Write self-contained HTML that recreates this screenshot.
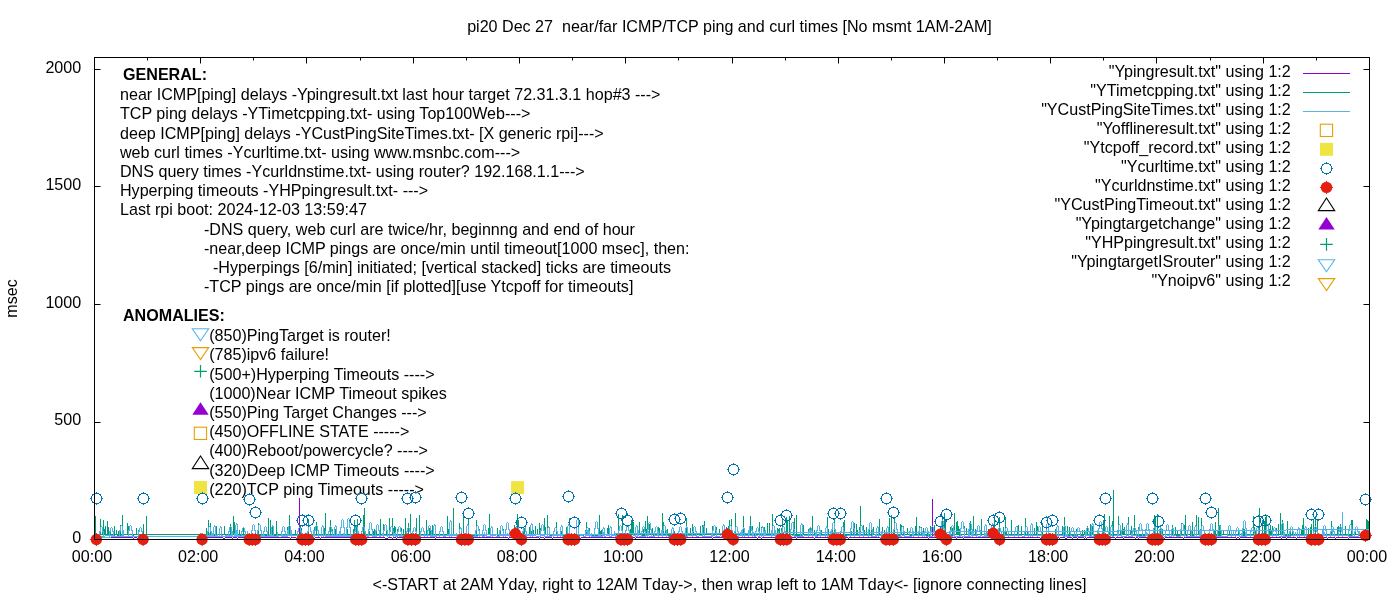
<!DOCTYPE html><html><head><meta charset="utf-8"><style>html,body{margin:0;padding:0;background:#fff;width:1400px;height:600px;overflow:hidden}svg{display:block;will-change:transform}text{font-family:"Liberation Sans",sans-serif;font-size:16.1px;fill:#000}</style></head><body>
<svg width="1400" height="600" viewBox="0 0 1400 600">
<rect width="1400" height="600" fill="#fff"/>
<text x="729.5" y="32.0" text-anchor="middle" xml:space="preserve">pi20 Dec 27  near/far ICMP/TCP ping and curl times [No msmt 1AM-2AM]</text>
<text x="0" y="0" text-anchor="middle" transform="translate(17,298.5) rotate(-90)">msec</text>
<text x="81.2" y="542.7" text-anchor="end" xml:space="preserve">0</text>
<text x="81.2" y="425.2" text-anchor="end" xml:space="preserve">500</text>
<text x="81.2" y="307.7" text-anchor="end" xml:space="preserve">1000</text>
<text x="81.2" y="190.2" text-anchor="end" xml:space="preserve">1500</text>
<text x="81.2" y="72.7" text-anchor="end" xml:space="preserve">2000</text>
<text x="92.0" y="561.8" text-anchor="middle" xml:space="preserve">00:00</text>
<text x="198.2" y="561.8" text-anchor="middle" xml:space="preserve">02:00</text>
<text x="304.5" y="561.8" text-anchor="middle" xml:space="preserve">04:00</text>
<text x="410.8" y="561.8" text-anchor="middle" xml:space="preserve">06:00</text>
<text x="517.0" y="561.8" text-anchor="middle" xml:space="preserve">08:00</text>
<text x="623.2" y="561.8" text-anchor="middle" xml:space="preserve">10:00</text>
<text x="729.5" y="561.8" text-anchor="middle" xml:space="preserve">12:00</text>
<text x="835.8" y="561.8" text-anchor="middle" xml:space="preserve">14:00</text>
<text x="942.0" y="561.8" text-anchor="middle" xml:space="preserve">16:00</text>
<text x="1048.2" y="561.8" text-anchor="middle" xml:space="preserve">18:00</text>
<text x="1154.5" y="561.8" text-anchor="middle" xml:space="preserve">20:00</text>
<text x="1260.8" y="561.8" text-anchor="middle" xml:space="preserve">22:00</text>
<text x="1367.0" y="561.8" text-anchor="middle" xml:space="preserve">00:00</text>
<text x="729.5" y="589.8" text-anchor="middle" xml:space="preserve">&lt;-START at 2AM Yday, right to 12AM Tday-&gt;, then wrap left to 1AM Tday&lt;- [ignore connecting lines]</text>
<text x="123.0" y="79.8" text-anchor="start" font-weight="bold" xml:space="preserve">GENERAL:</text>
<text x="120.0" y="100.2" text-anchor="start" xml:space="preserve">near ICMP[ping] delays -Ypingresult.txt last hour target 72.31.3.1 hop#3 ---&gt;</text>
<text x="120.0" y="119.3" text-anchor="start" xml:space="preserve">TCP ping delays -YTimetcpping.txt- using Top100Web---&gt;</text>
<text x="120.0" y="138.5" text-anchor="start" xml:space="preserve">deep ICMP[ping] delays -YCustPingSiteTimes.txt- [X generic rpi]---&gt;</text>
<text x="120.0" y="157.7" text-anchor="start" xml:space="preserve">web curl times -Ycurltime.txt- using www.msnbc.com---&gt;</text>
<text x="120.0" y="176.8" text-anchor="start" xml:space="preserve">DNS query times -Ycurldnstime.txt- using router? 192.168.1.1---&gt;</text>
<text x="120.0" y="195.9" text-anchor="start" xml:space="preserve">Hyperping timeouts -YHPpingresult.txt- ---&gt;</text>
<text x="120.0" y="215.1" text-anchor="start" xml:space="preserve">Last rpi boot: 2024-12-03 13:59:47</text>
<text x="204.0" y="235.0" text-anchor="start" xml:space="preserve">-DNS query, web curl are twice/hr, beginnng and end of hour</text>
<text x="204.0" y="254.1" text-anchor="start" xml:space="preserve">-near,deep ICMP pings are once/min until timeout[1000 msec], then:</text>
<text x="213.0" y="273.2" text-anchor="start" xml:space="preserve">-Hyperpings [6/min] initiated; [vertical stacked] ticks are timeouts</text>
<text x="204.0" y="292.3" text-anchor="start" xml:space="preserve">-TCP pings are once/min [if plotted][use Ytcpoff for timeouts]</text>
<text x="123.0" y="320.7" text-anchor="start" font-weight="bold" xml:space="preserve">ANOMALIES:</text>
<text x="209.2" y="341.1" text-anchor="start" xml:space="preserve">(850)PingTarget is router!</text>
<text x="209.2" y="360.3" text-anchor="start" xml:space="preserve">(785)ipv6 failure!</text>
<text x="209.2" y="379.5" text-anchor="start" xml:space="preserve">(500+)Hyperping Timeouts ----&gt;</text>
<text x="209.2" y="398.7" text-anchor="start" xml:space="preserve">(1000)Near ICMP Timeout spikes</text>
<text x="209.2" y="417.9" text-anchor="start" xml:space="preserve">(550)Ping Target Changes ---&gt;</text>
<text x="209.2" y="437.1" text-anchor="start" xml:space="preserve">(450)OFFLINE STATE -----&gt;</text>
<text x="209.2" y="456.3" text-anchor="start" xml:space="preserve">(400)Reboot/powercycle? ----&gt;</text>
<text x="209.2" y="475.5" text-anchor="start" xml:space="preserve">(320)Deep ICMP Timeouts ----&gt;</text>
<text x="209.2" y="494.7" text-anchor="start" xml:space="preserve">(220)TCP ping Timeouts -----&gt;</text>
<polygon points="200.5,340.8 208.7,328.8 192.3,328.8" fill="none" stroke="#56b4e9" stroke-width="1.1"/>
<polygon points="200.5,359.6 208.7,347.6 192.3,347.6" fill="none" stroke="#e69f00" stroke-width="1.1"/>
<path d="M194.2 371.3H206.8M200.5 365.0V377.6" stroke="#009e73" stroke-width="1.2" fill="none"/>
<polygon points="200.5,402.2 208.7,414.8 192.3,414.8" fill="#9400d3"/>
<rect x="194.3" y="427.2" width="12.3" height="12.3" fill="none" stroke="#e69f00" stroke-width="1.1"/>
<polygon points="200.5,456.0 208.7,468.6 192.3,468.6" fill="none" stroke="#000" stroke-width="1.1"/>
<rect x="194.0" y="481.0" width="13" height="13" fill="#f0e442"/>
<text x="1290.8" y="77.0" text-anchor="end" xml:space="preserve">"Ypingresult.txt" using 1:2</text>
<text x="1290.8" y="96.0" text-anchor="end" xml:space="preserve">"YTimetcpping.txt" using 1:2</text>
<text x="1290.8" y="115.0" text-anchor="end" xml:space="preserve">"YCustPingSiteTimes.txt" using 1:2</text>
<text x="1290.8" y="134.0" text-anchor="end" xml:space="preserve">"Yofflineresult.txt" using 1:2</text>
<text x="1290.8" y="153.0" text-anchor="end" xml:space="preserve">"Ytcpoff_record.txt" using 1:2</text>
<text x="1290.8" y="172.0" text-anchor="end" xml:space="preserve">"Ycurltime.txt" using 1:2</text>
<text x="1290.8" y="191.0" text-anchor="end" xml:space="preserve">"Ycurldnstime.txt" using 1:2</text>
<text x="1290.8" y="210.0" text-anchor="end" xml:space="preserve">"YCustPingTimeout.txt" using 1:2</text>
<text x="1290.8" y="229.0" text-anchor="end" xml:space="preserve">"Ypingtargetchange" using 1:2</text>
<text x="1290.8" y="248.0" text-anchor="end" xml:space="preserve">"YHPpingresult.txt" using 1:2</text>
<text x="1290.8" y="267.0" text-anchor="end" xml:space="preserve">"YpingtargetISrouter" using 1:2</text>
<text x="1290.8" y="286.0" text-anchor="end" xml:space="preserve">"Ynoipv6" using 1:2</text>
<path d="M1303 73.5H1350" stroke="#9400d3" stroke-width="1.1"/>
<path d="M1303 92.5H1350" stroke="#009e73" stroke-width="1.1"/>
<path d="M1303 111.5H1350" stroke="#56b4e9" stroke-width="1.1"/>
<rect x="1320.3" y="124.2" width="12.3" height="12.3" fill="none" stroke="#e69f00" stroke-width="1.1"/>
<rect x="1320.0" y="142.8" width="13" height="13" fill="#f0e442"/>
<circle cx="1326.5" cy="168.5" r="5.3" fill="none" stroke="#0072b2" stroke-width="1.1" shape-rendering="crispEdges"/>
<path d="M1326.5 162.0v2M1326.5 173.0v2M1320.0 168.5h2M1331.0 168.5h2" stroke="#0072b2" stroke-width="1" shape-rendering="crispEdges"/>
<circle cx="1326.5" cy="187.4" r="5.7" fill="#e51e10"/>
<path d="M1326.5 180.9v13M1320.0 187.4h13" stroke="#e51e10" stroke-width="1"/>
<polygon points="1326.5,198.0 1334.7,210.6 1318.3,210.6" fill="none" stroke="#000" stroke-width="1.1"/>
<polygon points="1326.5,217.0 1334.7,229.6 1318.3,229.6" fill="#9400d3"/>
<path d="M1320.2 244.4H1332.8M1326.5 238.1V250.7" stroke="#009e73" stroke-width="1.2" fill="none"/>
<polygon points="1326.5,271.8 1334.7,259.8 1318.3,259.8" fill="none" stroke="#56b4e9" stroke-width="1.1"/>
<polygon points="1326.5,290.6 1334.7,278.6 1318.3,278.6" fill="none" stroke="#e69f00" stroke-width="1.1"/>
<path d="M94.5 57.5v6 M94.5 539.5v-6 M147.5 57.5v3 M147.5 539.5v-3 M200.5 57.5v6 M200.5 539.5v-6 M253.5 57.5v3 M253.5 539.5v-3 M306.5 57.5v6 M306.5 539.5v-6 M360.5 57.5v3 M360.5 539.5v-3 M413.5 57.5v6 M413.5 539.5v-6 M466.5 57.5v3 M466.5 539.5v-3 M519.5 57.5v6 M519.5 539.5v-6 M572.5 57.5v3 M572.5 539.5v-3 M625.5 57.5v6 M625.5 539.5v-6 M678.5 57.5v3 M678.5 539.5v-3 M732.5 57.5v6 M732.5 539.5v-6 M785.5 57.5v3 M785.5 539.5v-3 M838.5 57.5v6 M838.5 539.5v-6 M891.5 57.5v3 M891.5 539.5v-3 M944.5 57.5v6 M944.5 539.5v-6 M997.5 57.5v3 M997.5 539.5v-3 M1050.5 57.5v6 M1050.5 539.5v-6 M1103.5 57.5v3 M1103.5 539.5v-3 M1156.5 57.5v6 M1156.5 539.5v-6 M1210.5 57.5v3 M1210.5 539.5v-3 M1263.5 57.5v6 M1263.5 539.5v-6 M1316.5 57.5v3 M1316.5 539.5v-3 M1369.5 57.5v6 M1369.5 539.5v-6 M94.5 539.5h6 M1369.5 539.5h-6 M94.5 422.5h6 M1369.5 422.5h-6 M94.5 304.5h6 M1369.5 304.5h-6 M94.5 186.5h6 M1369.5 186.5h-6 M94.5 69.5h6 M1369.5 69.5h-6" stroke="#000" stroke-width="1" fill="none"/>
<g clip-path="url(#cp)">
<defs><clipPath id="cp"><rect x="0" y="0" width="1400" height="600"/></clipPath></defs>
<path fill="#9400d3" d="M95 537h1v1h-1zM96 537h1v1h-1zM97 537h1v1h-1zM98 537h1v1h-1zM99 537h1v1h-1zM100 537h1v1h-1zM101 537h1v1h-1zM102 537h1v1h-1zM103 537h1v1h-1zM104 537h1v1h-1zM105 537h1v1h-1zM106 537h1v1h-1zM107 537h1v1h-1zM108 537h1v1h-1zM109 537h1v1h-1zM110 537h1v1h-1zM111 537h1v1h-1zM112 537h1v1h-1zM113 537h1v1h-1zM114 537h1v1h-1zM115 537h1v1h-1zM116 537h1v1h-1zM117 537h1v1h-1zM118 537h1v1h-1zM119 537h1v1h-1zM120 537h1v1h-1zM121 537h1v1h-1zM122 537h1v1h-1zM123 537h1v1h-1zM124 537h1v1h-1zM125 537h1v1h-1zM126 537h1v1h-1zM127 537h1v1h-1zM128 537h1v1h-1zM129 537h1v1h-1zM130 537h1v1h-1zM131 537h1v1h-1zM132 537h1v1h-1zM133 538h1v1h-1zM134 537h1v1h-1zM135 537h1v1h-1zM136 537h1v1h-1zM137 538h1v1h-1zM138 537h1v1h-1zM139 537h1v1h-1zM140 537h1v1h-1zM141 537h1v1h-1zM142 537h1v1h-1zM143 537h1v1h-1zM144 537h1v1h-1zM145 537h1v1h-1zM146 537h1v1h-1zM147 537h1v1h-1zM200 537h1v1h-1zM201 537h1v1h-1zM202 537h1v1h-1zM203 537h1v1h-1zM204 537h1v1h-1zM205 537h1v1h-1zM206 538h1v1h-1zM207 537h1v1h-1zM208 537h1v1h-1zM209 537h1v1h-1zM210 537h1v1h-1zM211 537h1v1h-1zM212 537h1v1h-1zM213 537h1v1h-1zM214 537h1v1h-1zM215 537h1v1h-1zM216 537h1v1h-1zM217 537h1v1h-1zM218 537h1v1h-1zM219 537h1v1h-1zM220 537h1v1h-1zM221 537h1v1h-1zM222 537h1v1h-1zM223 538h1v1h-1zM224 538h1v1h-1zM225 537h1v1h-1zM226 537h1v1h-1zM227 537h1v1h-1zM228 537h1v1h-1zM229 537h1v1h-1zM230 537h1v1h-1zM231 537h1v1h-1zM232 538h1v1h-1zM233 537h1v1h-1zM234 537h1v1h-1zM235 537h1v1h-1zM236 537h1v1h-1zM237 538h1v1h-1zM238 537h1v1h-1zM239 537h1v1h-1zM240 537h1v1h-1zM241 537h1v1h-1zM242 537h1v1h-1zM243 537h1v1h-1zM244 537h1v1h-1zM245 537h1v1h-1zM246 537h1v1h-1zM247 537h1v1h-1zM248 537h1v1h-1zM249 537h1v1h-1zM250 537h1v1h-1zM251 537h1v1h-1zM252 538h1v1h-1zM253 537h1v1h-1zM254 537h1v1h-1zM255 537h1v1h-1zM256 537h1v1h-1zM257 537h1v1h-1zM258 537h1v1h-1zM259 537h1v1h-1zM260 537h1v1h-1zM261 537h1v1h-1zM262 537h1v1h-1zM263 537h1v1h-1zM264 537h1v1h-1zM265 537h1v1h-1zM266 537h1v1h-1zM267 537h1v1h-1zM268 537h1v1h-1zM269 537h1v1h-1zM270 537h1v1h-1zM271 537h1v1h-1zM272 537h1v1h-1zM273 537h1v1h-1zM274 537h1v1h-1zM275 537h1v1h-1zM276 537h1v1h-1zM277 537h1v1h-1zM278 537h1v1h-1zM279 537h1v1h-1zM280 537h1v1h-1zM281 537h1v1h-1zM282 537h1v1h-1zM283 537h1v1h-1zM284 537h1v1h-1zM285 537h1v1h-1zM286 537h1v1h-1zM287 537h1v1h-1zM288 537h1v1h-1zM289 537h1v1h-1zM290 538h1v1h-1zM291 537h1v1h-1zM292 537h1v1h-1zM293 537h1v1h-1zM294 537h1v1h-1zM295 537h1v1h-1zM296 538h1v1h-1zM297 537h1v1h-1zM298 538h1v1h-1zM299 498h1v40h-1zM300 537h1v1h-1zM301 537h1v1h-1zM302 537h1v1h-1zM303 537h1v1h-1zM304 537h1v1h-1zM305 537h1v1h-1zM306 537h1v1h-1zM307 537h1v1h-1zM308 537h1v1h-1zM309 537h1v1h-1zM310 537h1v1h-1zM311 537h1v1h-1zM312 537h1v1h-1zM313 537h1v1h-1zM314 538h1v1h-1zM315 537h1v1h-1zM316 537h1v1h-1zM317 537h1v1h-1zM318 537h1v1h-1zM319 537h1v1h-1zM320 538h1v1h-1zM321 537h1v1h-1zM322 537h1v1h-1zM323 537h1v1h-1zM324 537h1v1h-1zM325 537h1v1h-1zM326 537h1v1h-1zM327 537h1v1h-1zM328 537h1v1h-1zM329 537h1v1h-1zM330 537h1v1h-1zM331 537h1v1h-1zM332 537h1v1h-1zM333 537h1v1h-1zM334 537h1v1h-1zM335 537h1v1h-1zM336 537h1v1h-1zM337 537h1v1h-1zM338 537h1v1h-1zM339 537h1v1h-1zM340 537h1v1h-1zM341 537h1v1h-1zM342 537h1v1h-1zM343 537h1v1h-1zM344 537h1v1h-1zM345 537h1v1h-1zM346 537h1v1h-1zM347 537h1v1h-1zM348 537h1v1h-1zM349 537h1v1h-1zM350 537h1v1h-1zM351 537h1v1h-1zM352 537h1v1h-1zM353 537h1v1h-1zM354 537h1v1h-1zM355 537h1v1h-1zM356 537h1v1h-1zM357 537h1v1h-1zM358 537h1v1h-1zM359 538h1v1h-1zM360 537h1v1h-1zM361 537h1v1h-1zM362 537h1v1h-1zM363 537h1v1h-1zM364 537h1v1h-1zM365 537h1v1h-1zM366 537h1v1h-1zM367 537h1v1h-1zM368 537h1v1h-1zM369 537h1v1h-1zM370 537h1v1h-1zM371 537h1v1h-1zM372 537h1v1h-1zM373 537h1v1h-1zM374 537h1v1h-1zM375 537h1v1h-1zM376 537h1v1h-1zM377 537h1v1h-1zM378 537h1v1h-1zM379 537h1v1h-1zM380 537h1v1h-1zM381 537h1v1h-1zM382 537h1v1h-1zM383 537h1v1h-1zM384 537h1v1h-1zM385 538h1v1h-1zM386 538h1v1h-1zM387 538h1v1h-1zM388 537h1v1h-1zM389 537h1v1h-1zM390 537h1v1h-1zM391 537h1v1h-1zM392 538h1v1h-1zM393 537h1v1h-1zM394 537h1v1h-1zM395 537h1v1h-1zM396 538h1v1h-1zM397 537h1v1h-1zM398 537h1v1h-1zM399 537h1v1h-1zM400 537h1v1h-1zM401 537h1v1h-1zM402 537h1v1h-1zM403 537h1v1h-1zM404 537h1v1h-1zM405 538h1v1h-1zM406 537h1v1h-1zM407 537h1v1h-1zM408 537h1v1h-1zM409 538h1v1h-1zM410 537h1v1h-1zM411 537h1v1h-1zM412 537h1v1h-1zM413 537h1v1h-1zM414 537h1v1h-1zM415 537h1v1h-1zM416 537h1v1h-1zM417 537h1v1h-1zM418 537h1v1h-1zM419 537h1v1h-1zM420 537h1v1h-1zM421 537h1v1h-1zM422 537h1v1h-1zM423 537h1v1h-1zM424 537h1v1h-1zM425 537h1v1h-1zM426 537h1v1h-1zM427 537h1v1h-1zM428 537h1v1h-1zM429 537h1v1h-1zM430 537h1v1h-1zM431 537h1v1h-1zM432 537h1v1h-1zM433 537h1v1h-1zM434 537h1v1h-1zM435 538h1v1h-1zM436 537h1v1h-1zM437 537h1v1h-1zM438 537h1v1h-1zM439 537h1v1h-1zM440 537h1v1h-1zM441 537h1v1h-1zM442 537h1v1h-1zM443 537h1v1h-1zM444 537h1v1h-1zM445 537h1v1h-1zM446 537h1v1h-1zM447 537h1v1h-1zM448 537h1v1h-1zM449 537h1v1h-1zM450 537h1v1h-1zM451 537h1v1h-1zM452 537h1v1h-1zM453 537h1v1h-1zM454 537h1v1h-1zM455 537h1v1h-1zM456 537h1v1h-1zM457 537h1v1h-1zM458 537h1v1h-1zM459 537h1v1h-1zM460 537h1v1h-1zM461 537h1v1h-1zM462 537h1v1h-1zM463 537h1v1h-1zM464 537h1v1h-1zM465 537h1v1h-1zM466 537h1v1h-1zM467 537h1v1h-1zM468 537h1v1h-1zM469 537h1v1h-1zM470 537h1v1h-1zM471 537h1v1h-1zM472 537h1v1h-1zM473 537h1v1h-1zM474 537h1v1h-1zM475 537h1v1h-1zM476 537h1v1h-1zM477 537h1v1h-1zM478 537h1v1h-1zM479 537h1v1h-1zM480 537h1v1h-1zM481 537h1v1h-1zM482 537h1v1h-1zM483 537h1v1h-1zM484 537h1v1h-1zM485 537h1v1h-1zM486 537h1v1h-1zM487 537h1v1h-1zM488 537h1v1h-1zM489 537h1v1h-1zM490 537h1v1h-1zM491 537h1v1h-1zM492 537h1v1h-1zM493 537h1v1h-1zM494 537h1v1h-1zM495 537h1v1h-1zM496 537h1v1h-1zM497 537h1v1h-1zM498 537h1v1h-1zM499 537h1v1h-1zM500 537h1v1h-1zM501 537h1v1h-1zM502 537h1v1h-1zM503 537h1v1h-1zM504 537h1v1h-1zM505 537h1v1h-1zM506 537h1v1h-1zM507 537h1v1h-1zM508 538h1v1h-1zM509 537h1v1h-1zM510 537h1v1h-1zM511 537h1v1h-1zM512 537h1v1h-1zM513 537h1v1h-1zM514 537h1v1h-1zM515 537h1v1h-1zM516 537h1v1h-1zM517 537h1v1h-1zM518 537h1v1h-1zM519 537h1v1h-1zM520 537h1v1h-1zM521 537h1v1h-1zM522 537h1v1h-1zM523 537h1v1h-1zM524 537h1v1h-1zM525 537h1v1h-1zM526 537h1v1h-1zM527 537h1v1h-1zM528 537h1v1h-1zM529 537h1v1h-1zM530 537h1v1h-1zM531 537h1v1h-1zM532 537h1v1h-1zM533 537h1v1h-1zM534 537h1v1h-1zM535 537h1v1h-1zM536 537h1v1h-1zM537 537h1v1h-1zM538 537h1v1h-1zM539 538h1v1h-1zM540 537h1v1h-1zM541 537h1v1h-1zM542 537h1v1h-1zM543 537h1v1h-1zM544 538h1v1h-1zM545 537h1v1h-1zM546 537h1v1h-1zM547 537h1v1h-1zM548 537h1v1h-1zM549 537h1v1h-1zM550 537h1v1h-1zM551 537h1v1h-1zM552 538h1v1h-1zM553 537h1v1h-1zM554 537h1v1h-1zM555 537h1v1h-1zM556 537h1v1h-1zM557 537h1v1h-1zM558 537h1v1h-1zM559 537h1v1h-1zM560 537h1v1h-1zM561 537h1v1h-1zM562 537h1v1h-1zM563 537h1v1h-1zM564 537h1v1h-1zM565 537h1v1h-1zM566 537h1v1h-1zM567 537h1v1h-1zM568 537h1v1h-1zM569 537h1v1h-1zM570 537h1v1h-1zM571 537h1v1h-1zM572 537h1v1h-1zM573 537h1v1h-1zM574 537h1v1h-1zM575 537h1v1h-1zM576 537h1v1h-1zM577 537h1v1h-1zM578 537h1v1h-1zM579 537h1v1h-1zM580 538h1v1h-1zM581 537h1v1h-1zM582 537h1v1h-1zM583 537h1v1h-1zM584 537h1v1h-1zM585 537h1v1h-1zM586 537h1v1h-1zM587 537h1v1h-1zM588 537h1v1h-1zM589 537h1v1h-1zM590 537h1v1h-1zM591 537h1v1h-1zM592 537h1v1h-1zM593 537h1v1h-1zM594 537h1v1h-1zM595 537h1v1h-1zM596 537h1v1h-1zM597 537h1v1h-1zM598 537h1v1h-1zM599 537h1v1h-1zM600 537h1v1h-1zM601 537h1v1h-1zM602 537h1v1h-1zM603 537h1v1h-1zM604 537h1v1h-1zM605 537h1v1h-1zM606 537h1v1h-1zM607 537h1v1h-1zM608 537h1v1h-1zM609 537h1v1h-1zM610 537h1v1h-1zM611 537h1v1h-1zM612 537h1v1h-1zM613 537h1v1h-1zM614 537h1v1h-1zM615 537h1v1h-1zM616 537h1v1h-1zM617 537h1v1h-1zM618 537h1v1h-1zM619 537h1v1h-1zM620 537h1v1h-1zM621 537h1v1h-1zM622 537h1v1h-1zM623 537h1v1h-1zM624 538h1v1h-1zM625 537h1v1h-1zM626 537h1v1h-1zM627 537h1v1h-1zM628 537h1v1h-1zM629 537h1v1h-1zM630 537h1v1h-1zM631 537h1v1h-1zM632 537h1v1h-1zM633 537h1v1h-1zM634 537h1v1h-1zM635 538h1v1h-1zM636 537h1v1h-1zM637 537h1v1h-1zM638 537h1v1h-1zM639 537h1v1h-1zM640 537h1v1h-1zM641 537h1v1h-1zM642 537h1v1h-1zM643 537h1v1h-1zM644 537h1v1h-1zM645 537h1v1h-1zM646 537h1v1h-1zM647 537h1v1h-1zM648 537h1v1h-1zM649 537h1v1h-1zM650 537h1v1h-1zM651 537h1v1h-1zM652 537h1v1h-1zM653 537h1v1h-1zM654 537h1v1h-1zM655 537h1v1h-1zM656 537h1v1h-1zM657 537h1v1h-1zM658 537h1v1h-1zM659 537h1v1h-1zM660 537h1v1h-1zM661 537h1v1h-1zM662 537h1v1h-1zM663 537h1v1h-1zM664 537h1v1h-1zM665 537h1v1h-1zM666 537h1v1h-1zM667 537h1v1h-1zM668 537h1v1h-1zM669 537h1v1h-1zM670 538h1v1h-1zM671 537h1v1h-1zM672 537h1v1h-1zM673 537h1v1h-1zM674 537h1v1h-1zM675 537h1v1h-1zM676 537h1v1h-1zM677 537h1v1h-1zM678 537h1v1h-1zM679 537h1v1h-1zM680 537h1v1h-1zM681 537h1v1h-1zM682 537h1v1h-1zM683 537h1v1h-1zM684 537h1v1h-1zM685 537h1v1h-1zM686 537h1v1h-1zM687 537h1v1h-1zM688 537h1v1h-1zM689 537h1v1h-1zM690 537h1v1h-1zM691 537h1v1h-1zM692 537h1v1h-1zM693 537h1v1h-1zM694 537h1v1h-1zM695 537h1v1h-1zM696 537h1v1h-1zM697 537h1v1h-1zM698 537h1v1h-1zM699 537h1v1h-1zM700 537h1v1h-1zM701 537h1v1h-1zM702 537h1v1h-1zM703 537h1v1h-1zM704 537h1v1h-1zM705 537h1v1h-1zM706 537h1v1h-1zM707 537h1v1h-1zM708 537h1v1h-1zM709 537h1v1h-1zM710 537h1v1h-1zM711 537h1v1h-1zM712 538h1v1h-1zM713 537h1v1h-1zM714 537h1v1h-1zM715 537h1v1h-1zM716 537h1v1h-1zM717 537h1v1h-1zM718 537h1v1h-1zM719 537h1v1h-1zM720 537h1v1h-1zM721 537h1v1h-1zM722 537h1v1h-1zM723 537h1v1h-1zM724 537h1v1h-1zM725 537h1v1h-1zM726 537h1v1h-1zM727 537h1v1h-1zM728 537h1v1h-1zM729 537h1v1h-1zM730 537h1v1h-1zM731 537h1v1h-1zM732 537h1v1h-1zM733 537h1v1h-1zM734 537h1v1h-1zM735 537h1v1h-1zM736 537h1v1h-1zM737 537h1v1h-1zM738 537h1v1h-1zM739 537h1v1h-1zM740 537h1v1h-1zM741 537h1v1h-1zM742 537h1v1h-1zM743 537h1v1h-1zM744 537h1v1h-1zM745 537h1v1h-1zM746 537h1v1h-1zM747 537h1v1h-1zM748 537h1v1h-1zM749 537h1v1h-1zM750 537h1v1h-1zM751 537h1v1h-1zM752 537h1v1h-1zM753 537h1v1h-1zM754 537h1v1h-1zM755 537h1v1h-1zM756 537h1v1h-1zM757 538h1v1h-1zM758 537h1v1h-1zM759 537h1v1h-1zM760 537h1v1h-1zM761 538h1v1h-1zM762 537h1v1h-1zM763 537h1v1h-1zM764 537h1v1h-1zM765 537h1v1h-1zM766 537h1v1h-1zM767 537h1v1h-1zM768 537h1v1h-1zM769 537h1v1h-1zM770 537h1v1h-1zM771 537h1v1h-1zM772 537h1v1h-1zM773 537h1v1h-1zM774 537h1v1h-1zM775 538h1v1h-1zM776 537h1v1h-1zM777 537h1v1h-1zM778 537h1v1h-1zM779 537h1v1h-1zM780 537h1v1h-1zM781 537h1v1h-1zM782 537h1v1h-1zM783 537h1v1h-1zM784 538h1v1h-1zM785 537h1v1h-1zM786 537h1v1h-1zM787 537h1v1h-1zM788 537h1v1h-1zM789 537h1v1h-1zM790 537h1v1h-1zM791 537h1v1h-1zM792 537h1v1h-1zM793 537h1v1h-1zM794 537h1v1h-1zM795 537h1v1h-1zM796 538h1v1h-1zM797 537h1v1h-1zM798 537h1v1h-1zM799 537h1v1h-1zM800 537h1v1h-1zM801 537h1v1h-1zM802 537h1v1h-1zM803 537h1v1h-1zM804 537h1v1h-1zM805 537h1v1h-1zM806 537h1v1h-1zM807 537h1v1h-1zM808 537h1v1h-1zM809 537h1v1h-1zM810 537h1v1h-1zM811 537h1v1h-1zM812 537h1v1h-1zM813 537h1v1h-1zM814 538h1v1h-1zM815 537h1v1h-1zM816 537h1v1h-1zM817 537h1v1h-1zM818 537h1v1h-1zM819 537h1v1h-1zM820 537h1v1h-1zM821 537h1v1h-1zM822 537h1v1h-1zM823 537h1v1h-1zM824 537h1v1h-1zM825 537h1v1h-1zM826 537h1v1h-1zM827 537h1v1h-1zM828 537h1v1h-1zM829 538h1v1h-1zM830 537h1v1h-1zM831 537h1v1h-1zM832 537h1v1h-1zM833 537h1v1h-1zM834 537h1v1h-1zM835 537h1v1h-1zM836 537h1v1h-1zM837 537h1v1h-1zM838 537h1v1h-1zM839 537h1v1h-1zM840 537h1v1h-1zM841 537h1v1h-1zM842 537h1v1h-1zM843 537h1v1h-1zM844 537h1v1h-1zM845 537h1v1h-1zM846 537h1v1h-1zM847 537h1v1h-1zM848 538h1v1h-1zM849 537h1v1h-1zM850 537h1v1h-1zM851 537h1v1h-1zM852 537h1v1h-1zM853 537h1v1h-1zM854 537h1v1h-1zM855 537h1v1h-1zM856 537h1v1h-1zM857 537h1v1h-1zM858 537h1v1h-1zM859 537h1v1h-1zM860 537h1v1h-1zM861 537h1v1h-1zM862 537h1v1h-1zM863 537h1v1h-1zM864 537h1v1h-1zM865 537h1v1h-1zM866 537h1v1h-1zM867 537h1v1h-1zM868 537h1v1h-1zM869 537h1v1h-1zM870 537h1v1h-1zM871 537h1v1h-1zM872 537h1v1h-1zM873 537h1v1h-1zM874 537h1v1h-1zM875 537h1v1h-1zM876 537h1v1h-1zM877 537h1v1h-1zM878 537h1v1h-1zM879 537h1v1h-1zM880 538h1v1h-1zM881 537h1v1h-1zM882 537h1v1h-1zM883 537h1v1h-1zM884 537h1v1h-1zM885 537h1v1h-1zM886 537h1v1h-1zM887 537h1v1h-1zM888 537h1v1h-1zM889 537h1v1h-1zM890 537h1v1h-1zM891 538h1v1h-1zM892 537h1v1h-1zM893 537h1v1h-1zM894 537h1v1h-1zM895 537h1v1h-1zM896 537h1v1h-1zM897 537h1v1h-1zM898 537h1v1h-1zM899 537h1v1h-1zM900 537h1v1h-1zM901 537h1v1h-1zM902 537h1v1h-1zM903 537h1v1h-1zM904 537h1v1h-1zM905 537h1v1h-1zM906 537h1v1h-1zM907 537h1v1h-1zM908 537h1v1h-1zM909 537h1v1h-1zM910 537h1v1h-1zM911 537h1v1h-1zM912 537h1v1h-1zM913 537h1v1h-1zM914 537h1v1h-1zM915 537h1v1h-1zM916 537h1v1h-1zM917 537h1v1h-1zM918 537h1v1h-1zM919 537h1v1h-1zM920 537h1v1h-1zM921 537h1v1h-1zM922 537h1v1h-1zM923 537h1v1h-1zM924 537h1v1h-1zM925 537h1v1h-1zM926 537h1v1h-1zM927 537h1v1h-1zM928 538h1v1h-1zM929 537h1v1h-1zM930 537h1v1h-1zM931 537h1v1h-1zM932 499h1v39h-1zM933 537h1v1h-1zM934 537h1v1h-1zM935 537h1v1h-1zM936 537h1v1h-1zM937 537h1v1h-1zM938 537h1v1h-1zM939 537h1v1h-1zM940 537h1v1h-1zM941 537h1v1h-1zM942 537h1v1h-1zM943 537h1v1h-1zM944 537h1v1h-1zM945 537h1v1h-1zM946 537h1v1h-1zM947 538h1v1h-1zM948 537h1v1h-1zM949 537h1v1h-1zM950 537h1v1h-1zM951 537h1v1h-1zM952 537h1v1h-1zM953 537h1v1h-1zM954 537h1v1h-1zM955 537h1v1h-1zM956 538h1v1h-1zM957 537h1v1h-1zM958 537h1v1h-1zM959 537h1v1h-1zM960 537h1v1h-1zM961 537h1v1h-1zM962 537h1v1h-1zM963 538h1v1h-1zM964 537h1v1h-1zM965 537h1v1h-1zM966 537h1v1h-1zM967 537h1v1h-1zM968 537h1v1h-1zM969 537h1v1h-1zM970 537h1v1h-1zM971 537h1v1h-1zM972 537h1v1h-1zM973 537h1v1h-1zM974 537h1v1h-1zM975 537h1v1h-1zM976 537h1v1h-1zM977 537h1v1h-1zM978 537h1v1h-1zM979 537h1v1h-1zM980 537h1v1h-1zM981 537h1v1h-1zM982 537h1v1h-1zM983 537h1v1h-1zM984 537h1v1h-1zM985 537h1v1h-1zM986 537h1v1h-1zM987 537h1v1h-1zM988 537h1v1h-1zM989 537h1v1h-1zM990 537h1v1h-1zM991 538h1v1h-1zM992 537h1v1h-1zM993 537h1v1h-1zM994 537h1v1h-1zM995 537h1v1h-1zM996 537h1v1h-1zM997 537h1v1h-1zM998 537h1v1h-1zM999 537h1v1h-1zM1000 537h1v1h-1zM1001 537h1v1h-1zM1002 537h1v1h-1zM1003 537h1v1h-1zM1004 537h1v1h-1zM1005 537h1v1h-1zM1006 537h1v1h-1zM1007 537h1v1h-1zM1008 537h1v1h-1zM1009 537h1v1h-1zM1010 537h1v1h-1zM1011 537h1v1h-1zM1012 537h1v1h-1zM1013 537h1v1h-1zM1014 537h1v1h-1zM1015 537h1v1h-1zM1016 537h1v1h-1zM1017 537h1v1h-1zM1018 537h1v1h-1zM1019 537h1v1h-1zM1020 537h1v1h-1zM1021 537h1v1h-1zM1022 537h1v1h-1zM1023 537h1v1h-1zM1024 537h1v1h-1zM1025 537h1v1h-1zM1026 537h1v1h-1zM1027 537h1v1h-1zM1028 537h1v1h-1zM1029 537h1v1h-1zM1030 537h1v1h-1zM1031 537h1v1h-1zM1032 537h1v1h-1zM1033 537h1v1h-1zM1034 537h1v1h-1zM1035 537h1v1h-1zM1036 537h1v1h-1zM1037 537h1v1h-1zM1038 537h1v1h-1zM1039 537h1v1h-1zM1040 538h1v1h-1zM1041 537h1v1h-1zM1042 537h1v1h-1zM1043 537h1v1h-1zM1044 537h1v1h-1zM1045 537h1v1h-1zM1046 537h1v1h-1zM1047 537h1v1h-1zM1048 537h1v1h-1zM1049 537h1v1h-1zM1050 537h1v1h-1zM1051 537h1v1h-1zM1052 537h1v1h-1zM1053 537h1v1h-1zM1054 537h1v1h-1zM1055 537h1v1h-1zM1056 537h1v1h-1zM1057 537h1v1h-1zM1058 537h1v1h-1zM1059 538h1v1h-1zM1060 537h1v1h-1zM1061 537h1v1h-1zM1062 537h1v1h-1zM1063 537h1v1h-1zM1064 537h1v1h-1zM1065 538h1v1h-1zM1066 538h1v1h-1zM1067 537h1v1h-1zM1068 537h1v1h-1zM1069 537h1v1h-1zM1070 537h1v1h-1zM1071 537h1v1h-1zM1072 538h1v1h-1zM1073 537h1v1h-1zM1074 537h1v1h-1zM1075 537h1v1h-1zM1076 537h1v1h-1zM1077 538h1v1h-1zM1078 537h1v1h-1zM1079 537h1v1h-1zM1080 537h1v1h-1zM1081 537h1v1h-1zM1082 537h1v1h-1zM1083 537h1v1h-1zM1084 538h1v1h-1zM1085 537h1v1h-1zM1086 538h1v1h-1zM1087 537h1v1h-1zM1088 537h1v1h-1zM1089 537h1v1h-1zM1090 537h1v1h-1zM1091 537h1v1h-1zM1092 537h1v1h-1zM1093 537h1v1h-1zM1094 537h1v1h-1zM1095 537h1v1h-1zM1096 537h1v1h-1zM1097 537h1v1h-1zM1098 537h1v1h-1zM1099 537h1v1h-1zM1100 537h1v1h-1zM1101 537h1v1h-1zM1102 537h1v1h-1zM1103 537h1v1h-1zM1104 537h1v1h-1zM1105 537h1v1h-1zM1106 538h1v1h-1zM1107 537h1v1h-1zM1108 537h1v1h-1zM1109 537h1v1h-1zM1110 537h1v1h-1zM1111 537h1v1h-1zM1112 537h1v1h-1zM1113 537h1v1h-1zM1114 537h1v1h-1zM1115 538h1v1h-1zM1116 537h1v1h-1zM1117 537h1v1h-1zM1118 537h1v1h-1zM1119 537h1v1h-1zM1120 537h1v1h-1zM1121 537h1v1h-1zM1122 537h1v1h-1zM1123 538h1v1h-1zM1124 537h1v1h-1zM1125 537h1v1h-1zM1126 537h1v1h-1zM1127 537h1v1h-1zM1128 537h1v1h-1zM1129 537h1v1h-1zM1130 537h1v1h-1zM1131 537h1v1h-1zM1132 537h1v1h-1zM1133 537h1v1h-1zM1134 537h1v1h-1zM1135 538h1v1h-1zM1136 537h1v1h-1zM1137 537h1v1h-1zM1138 538h1v1h-1zM1139 537h1v1h-1zM1140 537h1v1h-1zM1141 537h1v1h-1zM1142 537h1v1h-1zM1143 537h1v1h-1zM1144 537h1v1h-1zM1145 537h1v1h-1zM1146 537h1v1h-1zM1147 537h1v1h-1zM1148 537h1v1h-1zM1149 537h1v1h-1zM1150 537h1v1h-1zM1151 537h1v1h-1zM1152 537h1v1h-1zM1153 538h1v1h-1zM1154 537h1v1h-1zM1155 537h1v1h-1zM1156 537h1v1h-1zM1157 537h1v1h-1zM1158 537h1v1h-1zM1159 538h1v1h-1zM1160 537h1v1h-1zM1161 537h1v1h-1zM1162 538h1v1h-1zM1163 537h1v1h-1zM1164 538h1v1h-1zM1165 537h1v1h-1zM1166 537h1v1h-1zM1167 537h1v1h-1zM1168 537h1v1h-1zM1169 537h1v1h-1zM1170 537h1v1h-1zM1171 537h1v1h-1zM1172 537h1v1h-1zM1173 537h1v1h-1zM1174 537h1v1h-1zM1175 537h1v1h-1zM1176 537h1v1h-1zM1177 537h1v1h-1zM1178 537h1v1h-1zM1179 537h1v1h-1zM1180 537h1v1h-1zM1181 537h1v1h-1zM1182 537h1v1h-1zM1183 538h1v1h-1zM1184 537h1v1h-1zM1185 537h1v1h-1zM1186 537h1v1h-1zM1187 537h1v1h-1zM1188 537h1v1h-1zM1189 537h1v1h-1zM1190 537h1v1h-1zM1191 537h1v1h-1zM1192 537h1v1h-1zM1193 537h1v1h-1zM1194 537h1v1h-1zM1195 537h1v1h-1zM1196 537h1v1h-1zM1197 537h1v1h-1zM1198 537h1v1h-1zM1199 537h1v1h-1zM1200 537h1v1h-1zM1201 537h1v1h-1zM1202 537h1v1h-1zM1203 537h1v1h-1zM1204 537h1v1h-1zM1205 537h1v1h-1zM1206 537h1v1h-1zM1207 537h1v1h-1zM1208 537h1v1h-1zM1209 537h1v1h-1zM1210 537h1v1h-1zM1211 537h1v1h-1zM1212 538h1v1h-1zM1213 537h1v1h-1zM1214 537h1v1h-1zM1215 537h1v1h-1zM1216 537h1v1h-1zM1217 537h1v1h-1zM1218 537h1v1h-1zM1219 537h1v1h-1zM1220 537h1v1h-1zM1221 537h1v1h-1zM1222 537h1v1h-1zM1223 537h1v1h-1zM1224 537h1v1h-1zM1225 537h1v1h-1zM1226 537h1v1h-1zM1227 537h1v1h-1zM1228 537h1v1h-1zM1229 537h1v1h-1zM1230 537h1v1h-1zM1231 537h1v1h-1zM1232 537h1v1h-1zM1233 537h1v1h-1zM1234 537h1v1h-1zM1235 537h1v1h-1zM1236 538h1v1h-1zM1237 537h1v1h-1zM1238 537h1v1h-1zM1239 538h1v1h-1zM1240 537h1v1h-1zM1241 537h1v1h-1zM1242 537h1v1h-1zM1243 537h1v1h-1zM1244 537h1v1h-1zM1245 537h1v1h-1zM1246 537h1v1h-1zM1247 537h1v1h-1zM1248 537h1v1h-1zM1249 537h1v1h-1zM1250 537h1v1h-1zM1251 537h1v1h-1zM1252 537h1v1h-1zM1253 537h1v1h-1zM1254 537h1v1h-1zM1255 537h1v1h-1zM1256 537h1v1h-1zM1257 537h1v1h-1zM1258 537h1v1h-1zM1259 537h1v1h-1zM1260 537h1v1h-1zM1261 537h1v1h-1zM1262 537h1v1h-1zM1263 537h1v1h-1zM1264 537h1v1h-1zM1265 537h1v1h-1zM1266 537h1v1h-1zM1267 537h1v1h-1zM1268 537h1v1h-1zM1269 537h1v1h-1zM1270 537h1v1h-1zM1271 537h1v1h-1zM1272 537h1v1h-1zM1273 537h1v1h-1zM1274 537h1v1h-1zM1275 537h1v1h-1zM1276 537h1v1h-1zM1277 537h1v1h-1zM1278 537h1v1h-1zM1279 537h1v1h-1zM1280 537h1v1h-1zM1281 538h1v1h-1zM1282 537h1v1h-1zM1283 537h1v1h-1zM1284 537h1v1h-1zM1285 537h1v1h-1zM1286 538h1v1h-1zM1287 537h1v1h-1zM1288 537h1v1h-1zM1289 537h1v1h-1zM1290 537h1v1h-1zM1291 537h1v1h-1zM1292 537h1v1h-1zM1293 537h1v1h-1zM1294 537h1v1h-1zM1295 537h1v1h-1zM1296 538h1v1h-1zM1297 537h1v1h-1zM1298 537h1v1h-1zM1299 537h1v1h-1zM1300 537h1v1h-1zM1301 537h1v1h-1zM1302 537h1v1h-1zM1303 537h1v1h-1zM1304 537h1v1h-1zM1305 537h1v1h-1zM1306 537h1v1h-1zM1307 537h1v1h-1zM1308 537h1v1h-1zM1309 537h1v1h-1zM1310 537h1v1h-1zM1311 537h1v1h-1zM1312 537h1v1h-1zM1313 537h1v1h-1zM1314 537h1v1h-1zM1315 537h1v1h-1zM1316 538h1v1h-1zM1317 537h1v1h-1zM1318 537h1v1h-1zM1319 537h1v1h-1zM1320 537h1v1h-1zM1321 537h1v1h-1zM1322 537h1v1h-1zM1323 537h1v1h-1zM1324 537h1v1h-1zM1325 537h1v1h-1zM1326 537h1v1h-1zM1327 538h1v1h-1zM1328 537h1v1h-1zM1329 537h1v1h-1zM1330 537h1v1h-1zM1331 537h1v1h-1zM1332 537h1v1h-1zM1333 537h1v1h-1zM1334 537h1v1h-1zM1335 538h1v1h-1zM1336 537h1v1h-1zM1337 537h1v1h-1zM1338 537h1v1h-1zM1339 537h1v1h-1zM1340 537h1v1h-1zM1341 537h1v1h-1zM1342 537h1v1h-1zM1343 537h1v1h-1zM1344 537h1v1h-1zM1345 537h1v1h-1zM1346 537h1v1h-1zM1347 537h1v1h-1zM1348 538h1v1h-1zM1349 537h1v1h-1zM1350 537h1v1h-1zM1351 537h1v1h-1zM1352 537h1v1h-1zM1353 537h1v1h-1zM1354 537h1v1h-1zM1355 537h1v1h-1zM1356 537h1v1h-1zM1357 537h1v1h-1zM1358 537h1v1h-1zM1359 537h1v1h-1zM1360 537h1v1h-1zM1361 537h1v1h-1zM1362 537h1v1h-1zM1363 537h1v1h-1zM1364 537h1v1h-1zM1365 537h1v1h-1zM1366 537h1v1h-1zM1367 537h1v1h-1zM1368 537h1v1h-1z"/>
<path fill="#009e73" d="M94 534h1v1h-1zM95 516h1v20h-1zM96 534h1v2h-1zM97 534h1v2h-1zM98 534h1v2h-1zM99 534h1v2h-1zM100 519h1v16h-1zM101 534h1v1h-1zM102 529h1v6h-1zM103 520h1v15h-1zM104 529h1v6h-1zM105 526h1v9h-1zM106 534h1v1h-1zM107 521h1v14h-1zM108 527h1v9h-1zM109 534h1v2h-1zM110 528h1v8h-1zM111 534h1v1h-1zM112 534h1v2h-1zM113 534h1v2h-1zM114 526h1v10h-1zM115 534h1v1h-1zM116 530h1v5h-1zM117 534h1v2h-1zM118 531h1v5h-1zM119 534h1v2h-1zM120 525h1v11h-1zM121 534h1v1h-1zM122 515h1v21h-1zM123 534h1v1h-1zM124 534h1v1h-1zM125 534h1v1h-1zM126 534h1v1h-1zM127 523h1v12h-1zM128 526h1v9h-1zM129 534h1v1h-1zM130 534h1v1h-1zM131 534h1v1h-1zM132 534h1v2h-1zM133 534h1v2h-1zM134 534h1v1h-1zM135 534h1v1h-1zM136 528h1v7h-1zM137 534h1v1h-1zM138 530h1v5h-1zM139 534h1v1h-1zM140 534h1v1h-1zM141 534h1v1h-1zM142 534h1v1h-1zM143 524h1v11h-1zM144 534h1v1h-1zM145 534h1v1h-1zM146 516h1v19h-1zM147 534h1v1h-1zM148 534h1v1h-1zM149 534h1v1h-1zM150 534h1v1h-1zM151 534h1v1h-1zM152 534h1v1h-1zM153 534h1v1h-1zM154 534h1v1h-1zM155 534h1v1h-1zM156 534h1v1h-1zM157 534h1v1h-1zM158 534h1v1h-1zM159 534h1v1h-1zM160 534h1v1h-1zM161 534h1v1h-1zM162 534h1v1h-1zM163 534h1v1h-1zM164 534h1v1h-1zM165 534h1v1h-1zM166 534h1v1h-1zM167 534h1v1h-1zM168 534h1v1h-1zM169 534h1v1h-1zM170 534h1v1h-1zM171 534h1v1h-1zM172 534h1v1h-1zM173 534h1v1h-1zM174 534h1v1h-1zM175 534h1v1h-1zM176 534h1v1h-1zM177 534h1v1h-1zM178 534h1v1h-1zM179 534h1v1h-1zM180 534h1v1h-1zM181 534h1v1h-1zM182 534h1v1h-1zM183 534h1v1h-1zM184 534h1v1h-1zM185 534h1v1h-1zM186 534h1v1h-1zM187 534h1v1h-1zM188 534h1v1h-1zM189 534h1v1h-1zM190 534h1v1h-1zM191 534h1v1h-1zM192 534h1v1h-1zM193 534h1v1h-1zM194 534h1v1h-1zM195 534h1v1h-1zM196 534h1v1h-1zM197 534h1v1h-1zM198 534h1v1h-1zM199 534h1v1h-1zM200 534h1v2h-1zM201 534h1v2h-1zM202 534h1v2h-1zM203 534h1v2h-1zM204 534h1v2h-1zM205 534h1v1h-1zM206 528h1v7h-1zM207 534h1v1h-1zM208 520h1v16h-1zM209 534h1v2h-1zM210 523h1v13h-1zM211 534h1v1h-1zM212 534h1v2h-1zM213 534h1v2h-1zM214 534h1v2h-1zM215 534h1v2h-1zM216 526h1v10h-1zM217 534h1v1h-1zM218 534h1v1h-1zM219 534h1v1h-1zM220 534h1v1h-1zM221 534h1v1h-1zM222 534h1v1h-1zM223 534h1v1h-1zM224 526h1v9h-1zM225 534h1v1h-1zM226 534h1v1h-1zM227 534h1v1h-1zM228 534h1v1h-1zM229 534h1v1h-1zM230 524h1v11h-1zM231 534h1v1h-1zM232 534h1v1h-1zM233 516h1v19h-1zM234 522h1v13h-1zM235 534h1v1h-1zM236 534h1v1h-1zM237 534h1v2h-1zM238 534h1v2h-1zM239 530h1v6h-1zM240 534h1v2h-1zM241 534h1v1h-1zM242 534h1v1h-1zM243 527h1v8h-1zM244 534h1v1h-1zM245 534h1v1h-1zM246 534h1v1h-1zM247 534h1v1h-1zM248 534h1v1h-1zM249 534h1v1h-1zM250 534h1v1h-1zM251 534h1v2h-1zM252 534h1v2h-1zM253 534h1v1h-1zM254 534h1v1h-1zM255 534h1v2h-1zM256 534h1v1h-1zM257 534h1v2h-1zM258 523h1v13h-1zM259 534h1v2h-1zM260 534h1v2h-1zM261 534h1v1h-1zM262 534h1v1h-1zM263 534h1v1h-1zM264 534h1v2h-1zM265 534h1v2h-1zM266 534h1v2h-1zM267 534h1v2h-1zM268 518h1v18h-1zM269 534h1v2h-1zM270 520h1v16h-1zM271 527h1v9h-1zM272 526h1v10h-1zM273 526h1v10h-1zM274 534h1v2h-1zM275 534h1v2h-1zM276 521h1v15h-1zM277 534h1v2h-1zM278 534h1v2h-1zM279 534h1v2h-1zM280 534h1v2h-1zM281 534h1v2h-1zM282 534h1v2h-1zM283 534h1v2h-1zM284 534h1v2h-1zM285 534h1v2h-1zM286 534h1v1h-1zM287 527h1v8h-1zM288 534h1v1h-1zM289 515h1v21h-1zM290 529h1v6h-1zM291 534h1v1h-1zM292 534h1v1h-1zM293 534h1v2h-1zM294 534h1v2h-1zM295 530h1v6h-1zM296 534h1v2h-1zM297 534h1v2h-1zM298 534h1v2h-1zM299 534h1v1h-1zM300 525h1v10h-1zM301 528h1v7h-1zM302 534h1v2h-1zM303 534h1v2h-1zM304 534h1v2h-1zM305 534h1v2h-1zM306 534h1v2h-1zM307 534h1v1h-1zM308 519h1v16h-1zM309 534h1v1h-1zM310 534h1v1h-1zM311 534h1v1h-1zM312 534h1v1h-1zM313 534h1v1h-1zM314 527h1v8h-1zM315 534h1v1h-1zM316 522h1v13h-1zM317 534h1v1h-1zM318 534h1v1h-1zM319 534h1v2h-1zM320 534h1v2h-1zM321 534h1v2h-1zM322 534h1v2h-1zM323 534h1v2h-1zM324 528h1v8h-1zM325 513h1v23h-1zM326 534h1v1h-1zM327 534h1v1h-1zM328 534h1v2h-1zM329 534h1v2h-1zM330 520h1v16h-1zM331 534h1v2h-1zM332 529h1v6h-1zM333 534h1v1h-1zM334 534h1v1h-1zM335 529h1v6h-1zM336 534h1v1h-1zM337 534h1v1h-1zM338 534h1v1h-1zM339 534h1v1h-1zM340 534h1v2h-1zM341 534h1v2h-1zM342 534h1v2h-1zM343 534h1v2h-1zM344 534h1v2h-1zM345 534h1v2h-1zM346 534h1v2h-1zM347 529h1v7h-1zM348 534h1v2h-1zM349 534h1v2h-1zM350 534h1v2h-1zM351 534h1v2h-1zM352 534h1v1h-1zM353 529h1v6h-1zM354 520h1v15h-1zM355 534h1v1h-1zM356 527h1v8h-1zM357 519h1v16h-1zM358 534h1v1h-1zM359 534h1v2h-1zM360 534h1v2h-1zM361 534h1v2h-1zM362 534h1v2h-1zM363 515h1v21h-1zM364 508h1v28h-1zM365 534h1v2h-1zM366 534h1v2h-1zM367 534h1v2h-1zM368 534h1v2h-1zM369 531h1v5h-1zM370 534h1v1h-1zM371 534h1v1h-1zM372 534h1v2h-1zM373 531h1v5h-1zM374 529h1v7h-1zM375 534h1v2h-1zM376 530h1v6h-1zM377 534h1v2h-1zM378 534h1v2h-1zM379 534h1v2h-1zM380 519h1v17h-1zM381 534h1v2h-1zM382 534h1v1h-1zM383 524h1v11h-1zM384 534h1v1h-1zM385 534h1v2h-1zM386 529h1v7h-1zM387 534h1v2h-1zM388 534h1v2h-1zM389 518h1v18h-1zM390 534h1v2h-1zM391 534h1v2h-1zM392 518h1v17h-1zM393 528h1v7h-1zM394 526h1v9h-1zM395 527h1v8h-1zM396 534h1v1h-1zM397 529h1v6h-1zM398 534h1v1h-1zM399 534h1v1h-1zM400 534h1v1h-1zM401 528h1v7h-1zM402 534h1v1h-1zM403 529h1v7h-1zM404 534h1v2h-1zM405 518h1v18h-1zM406 534h1v2h-1zM407 534h1v2h-1zM408 523h1v13h-1zM409 534h1v2h-1zM410 514h1v22h-1zM411 534h1v2h-1zM412 534h1v1h-1zM413 534h1v2h-1zM414 534h1v2h-1zM415 534h1v2h-1zM416 518h1v18h-1zM417 534h1v1h-1zM418 534h1v2h-1zM419 515h1v21h-1zM420 534h1v2h-1zM421 534h1v2h-1zM422 534h1v2h-1zM423 534h1v2h-1zM424 534h1v2h-1zM425 534h1v2h-1zM426 520h1v16h-1zM427 534h1v2h-1zM428 534h1v2h-1zM429 528h1v8h-1zM430 530h1v6h-1zM431 534h1v1h-1zM432 525h1v10h-1zM433 534h1v2h-1zM434 534h1v2h-1zM435 534h1v2h-1zM436 534h1v2h-1zM437 534h1v2h-1zM438 534h1v2h-1zM439 534h1v2h-1zM440 534h1v2h-1zM441 534h1v2h-1zM442 534h1v2h-1zM443 534h1v2h-1zM444 534h1v1h-1zM445 534h1v1h-1zM446 534h1v1h-1zM447 516h1v19h-1zM448 529h1v6h-1zM449 530h1v5h-1zM450 534h1v1h-1zM451 534h1v1h-1zM452 534h1v1h-1zM453 508h1v28h-1zM454 534h1v1h-1zM455 534h1v1h-1zM456 534h1v1h-1zM457 534h1v1h-1zM458 534h1v1h-1zM459 523h1v12h-1zM460 534h1v2h-1zM461 530h1v6h-1zM462 534h1v2h-1zM463 515h1v21h-1zM464 534h1v2h-1zM465 534h1v2h-1zM466 534h1v2h-1zM467 534h1v2h-1zM468 518h1v17h-1zM469 534h1v2h-1zM470 534h1v2h-1zM471 534h1v2h-1zM472 534h1v2h-1zM473 534h1v2h-1zM474 534h1v2h-1zM475 534h1v2h-1zM476 520h1v16h-1zM477 534h1v2h-1zM478 534h1v2h-1zM479 529h1v7h-1zM480 534h1v2h-1zM481 534h1v2h-1zM482 534h1v2h-1zM483 534h1v2h-1zM484 534h1v2h-1zM485 534h1v1h-1zM486 534h1v1h-1zM487 534h1v1h-1zM488 528h1v7h-1zM489 514h1v21h-1zM490 534h1v1h-1zM491 534h1v1h-1zM492 534h1v1h-1zM493 534h1v1h-1zM494 534h1v1h-1zM495 534h1v1h-1zM496 534h1v1h-1zM497 528h1v8h-1zM498 534h1v2h-1zM499 534h1v1h-1zM500 527h1v8h-1zM501 534h1v1h-1zM502 534h1v1h-1zM503 529h1v6h-1zM504 534h1v1h-1zM505 534h1v2h-1zM506 534h1v2h-1zM507 534h1v2h-1zM508 534h1v2h-1zM509 534h1v2h-1zM510 534h1v2h-1zM511 534h1v2h-1zM512 534h1v2h-1zM513 534h1v2h-1zM514 525h1v10h-1zM515 528h1v7h-1zM516 534h1v1h-1zM517 514h1v21h-1zM518 520h1v16h-1zM519 534h1v2h-1zM520 534h1v2h-1zM521 534h1v2h-1zM522 534h1v2h-1zM523 529h1v6h-1zM524 528h1v7h-1zM525 534h1v1h-1zM526 534h1v1h-1zM527 534h1v1h-1zM528 534h1v1h-1zM529 527h1v8h-1zM530 534h1v1h-1zM531 531h1v5h-1zM532 530h1v6h-1zM533 530h1v6h-1zM534 534h1v2h-1zM535 526h1v10h-1zM536 534h1v1h-1zM537 529h1v6h-1zM538 534h1v1h-1zM539 523h1v12h-1zM540 528h1v7h-1zM541 534h1v1h-1zM542 534h1v1h-1zM543 534h1v1h-1zM544 518h1v18h-1zM545 527h1v8h-1zM546 534h1v1h-1zM547 515h1v21h-1zM548 534h1v1h-1zM549 534h1v2h-1zM550 534h1v2h-1zM551 534h1v2h-1zM552 534h1v2h-1zM553 534h1v2h-1zM554 534h1v1h-1zM555 534h1v2h-1zM556 522h1v14h-1zM557 534h1v1h-1zM558 534h1v1h-1zM559 534h1v1h-1zM560 534h1v1h-1zM561 531h1v5h-1zM562 534h1v2h-1zM563 534h1v2h-1zM564 534h1v2h-1zM565 534h1v2h-1zM566 527h1v9h-1zM567 534h1v2h-1zM568 534h1v2h-1zM569 518h1v18h-1zM570 534h1v2h-1zM571 534h1v2h-1zM572 534h1v2h-1zM573 534h1v2h-1zM574 534h1v2h-1zM575 534h1v2h-1zM576 534h1v2h-1zM577 534h1v2h-1zM578 534h1v2h-1zM579 534h1v2h-1zM580 534h1v2h-1zM581 534h1v2h-1zM582 534h1v2h-1zM583 534h1v2h-1zM584 534h1v1h-1zM585 530h1v5h-1zM586 522h1v13h-1zM587 534h1v1h-1zM588 534h1v1h-1zM589 528h1v8h-1zM590 534h1v2h-1zM591 534h1v2h-1zM592 534h1v2h-1zM593 534h1v2h-1zM594 534h1v2h-1zM595 534h1v2h-1zM596 534h1v2h-1zM597 534h1v2h-1zM598 534h1v2h-1zM599 515h1v21h-1zM600 531h1v5h-1zM601 530h1v6h-1zM602 534h1v1h-1zM603 534h1v1h-1zM604 528h1v7h-1zM605 534h1v1h-1zM606 534h1v1h-1zM607 528h1v7h-1zM608 525h1v10h-1zM609 534h1v1h-1zM610 534h1v1h-1zM611 529h1v7h-1zM612 534h1v2h-1zM613 534h1v2h-1zM614 534h1v2h-1zM615 534h1v2h-1zM616 534h1v2h-1zM617 534h1v2h-1zM618 514h1v22h-1zM619 534h1v2h-1zM620 534h1v2h-1zM621 534h1v1h-1zM622 515h1v21h-1zM623 534h1v1h-1zM624 534h1v1h-1zM625 534h1v2h-1zM626 534h1v2h-1zM627 534h1v2h-1zM628 534h1v1h-1zM629 534h1v1h-1zM630 529h1v6h-1zM631 520h1v15h-1zM632 518h1v17h-1zM633 522h1v13h-1zM634 534h1v1h-1zM635 534h1v1h-1zM636 534h1v1h-1zM637 534h1v1h-1zM638 534h1v1h-1zM639 522h1v13h-1zM640 534h1v1h-1zM641 531h1v5h-1zM642 534h1v2h-1zM643 529h1v7h-1zM644 534h1v2h-1zM645 521h1v15h-1zM646 529h1v7h-1zM647 516h1v20h-1zM648 534h1v1h-1zM649 524h1v11h-1zM650 534h1v1h-1zM651 534h1v1h-1zM652 528h1v7h-1zM653 534h1v2h-1zM654 534h1v2h-1zM655 534h1v2h-1zM656 534h1v2h-1zM657 534h1v2h-1zM658 527h1v9h-1zM659 528h1v8h-1zM660 534h1v2h-1zM661 534h1v2h-1zM662 513h1v22h-1zM663 522h1v13h-1zM664 534h1v1h-1zM665 526h1v10h-1zM666 534h1v2h-1zM667 529h1v7h-1zM668 534h1v2h-1zM669 534h1v2h-1zM670 534h1v2h-1zM671 534h1v2h-1zM672 534h1v2h-1zM673 529h1v7h-1zM674 531h1v5h-1zM675 534h1v2h-1zM676 534h1v2h-1zM677 534h1v2h-1zM678 534h1v2h-1zM679 534h1v2h-1zM680 534h1v2h-1zM681 534h1v2h-1zM682 534h1v2h-1zM683 534h1v2h-1zM684 534h1v2h-1zM685 534h1v2h-1zM686 519h1v17h-1zM687 534h1v2h-1zM688 534h1v1h-1zM689 534h1v1h-1zM690 528h1v7h-1zM691 534h1v1h-1zM692 524h1v11h-1zM693 530h1v5h-1zM694 534h1v1h-1zM695 534h1v1h-1zM696 534h1v1h-1zM697 534h1v1h-1zM698 534h1v1h-1zM699 534h1v1h-1zM700 526h1v9h-1zM701 534h1v1h-1zM702 525h1v10h-1zM703 526h1v9h-1zM704 521h1v14h-1zM705 534h1v1h-1zM706 528h1v7h-1zM707 534h1v1h-1zM708 534h1v1h-1zM709 534h1v1h-1zM710 534h1v1h-1zM711 534h1v1h-1zM712 526h1v9h-1zM713 534h1v1h-1zM714 534h1v1h-1zM715 527h1v8h-1zM716 527h1v8h-1zM717 534h1v1h-1zM718 534h1v1h-1zM719 529h1v6h-1zM720 534h1v1h-1zM721 534h1v1h-1zM722 534h1v1h-1zM723 534h1v1h-1zM724 530h1v5h-1zM725 534h1v1h-1zM726 527h1v8h-1zM727 534h1v1h-1zM728 526h1v9h-1zM729 520h1v15h-1zM730 534h1v1h-1zM731 519h1v16h-1zM732 534h1v1h-1zM733 534h1v1h-1zM734 534h1v1h-1zM735 513h1v22h-1zM736 534h1v1h-1zM737 534h1v1h-1zM738 534h1v1h-1zM739 534h1v1h-1zM740 534h1v1h-1zM741 530h1v5h-1zM742 534h1v1h-1zM743 516h1v19h-1zM744 534h1v1h-1zM745 534h1v1h-1zM746 534h1v1h-1zM747 534h1v1h-1zM748 534h1v1h-1zM749 534h1v1h-1zM750 516h1v20h-1zM751 534h1v2h-1zM752 526h1v10h-1zM753 534h1v2h-1zM754 534h1v2h-1zM755 534h1v2h-1zM756 534h1v2h-1zM757 534h1v1h-1zM758 534h1v1h-1zM759 522h1v13h-1zM760 534h1v1h-1zM761 527h1v8h-1zM762 534h1v1h-1zM763 534h1v1h-1zM764 527h1v9h-1zM765 534h1v2h-1zM766 534h1v2h-1zM767 523h1v12h-1zM768 534h1v1h-1zM769 523h1v12h-1zM770 534h1v1h-1zM771 534h1v1h-1zM772 514h1v22h-1zM773 534h1v1h-1zM774 534h1v1h-1zM775 534h1v1h-1zM776 534h1v1h-1zM777 528h1v7h-1zM778 529h1v6h-1zM779 528h1v7h-1zM780 534h1v2h-1zM781 528h1v8h-1zM782 520h1v16h-1zM783 534h1v2h-1zM784 534h1v2h-1zM785 534h1v2h-1zM786 517h1v19h-1zM787 520h1v15h-1zM788 534h1v1h-1zM789 516h1v19h-1zM790 534h1v1h-1zM791 534h1v1h-1zM792 534h1v1h-1zM793 522h1v14h-1zM794 518h1v18h-1zM795 534h1v2h-1zM796 515h1v21h-1zM797 534h1v2h-1zM798 534h1v2h-1zM799 534h1v2h-1zM800 534h1v2h-1zM801 534h1v2h-1zM802 534h1v1h-1zM803 525h1v10h-1zM804 534h1v1h-1zM805 534h1v1h-1zM806 534h1v1h-1zM807 534h1v1h-1zM808 529h1v6h-1zM809 534h1v1h-1zM810 528h1v8h-1zM811 534h1v1h-1zM812 516h1v19h-1zM813 534h1v2h-1zM814 530h1v6h-1zM815 534h1v2h-1zM816 534h1v2h-1zM817 534h1v2h-1zM818 534h1v2h-1zM819 534h1v2h-1zM820 534h1v2h-1zM821 530h1v6h-1zM822 534h1v2h-1zM823 534h1v2h-1zM824 534h1v1h-1zM825 534h1v1h-1zM826 534h1v1h-1zM827 517h1v19h-1zM828 529h1v7h-1zM829 534h1v2h-1zM830 534h1v2h-1zM831 534h1v2h-1zM832 528h1v7h-1zM833 534h1v1h-1zM834 519h1v16h-1zM835 534h1v2h-1zM836 534h1v2h-1zM837 534h1v2h-1zM838 534h1v2h-1zM839 534h1v2h-1zM840 534h1v2h-1zM841 534h1v2h-1zM842 534h1v1h-1zM843 522h1v14h-1zM844 520h1v16h-1zM845 534h1v2h-1zM846 534h1v2h-1zM847 534h1v2h-1zM848 534h1v2h-1zM849 534h1v2h-1zM850 534h1v2h-1zM851 531h1v5h-1zM852 534h1v2h-1zM853 528h1v7h-1zM854 523h1v12h-1zM855 534h1v1h-1zM856 524h1v11h-1zM857 530h1v5h-1zM858 534h1v1h-1zM859 527h1v8h-1zM860 506h1v30h-1zM861 534h1v1h-1zM862 534h1v2h-1zM863 525h1v11h-1zM864 530h1v6h-1zM865 534h1v2h-1zM866 527h1v9h-1zM867 534h1v2h-1zM868 534h1v2h-1zM869 529h1v7h-1zM870 534h1v2h-1zM871 529h1v7h-1zM872 534h1v1h-1zM873 527h1v8h-1zM874 534h1v1h-1zM875 534h1v1h-1zM876 534h1v1h-1zM877 534h1v1h-1zM878 529h1v6h-1zM879 519h1v16h-1zM880 534h1v1h-1zM881 534h1v1h-1zM882 527h1v8h-1zM883 534h1v1h-1zM884 530h1v5h-1zM885 534h1v2h-1zM886 534h1v2h-1zM887 534h1v2h-1zM888 534h1v1h-1zM889 518h1v17h-1zM890 534h1v1h-1zM891 515h1v20h-1zM892 534h1v1h-1zM893 534h1v2h-1zM894 518h1v18h-1zM895 534h1v1h-1zM896 534h1v2h-1zM897 534h1v2h-1zM898 534h1v2h-1zM899 534h1v2h-1zM900 524h1v11h-1zM901 525h1v10h-1zM902 534h1v1h-1zM903 526h1v9h-1zM904 534h1v1h-1zM905 534h1v1h-1zM906 534h1v1h-1zM907 528h1v7h-1zM908 534h1v1h-1zM909 534h1v1h-1zM910 534h1v2h-1zM911 534h1v2h-1zM912 534h1v2h-1zM913 534h1v2h-1zM914 534h1v2h-1zM915 526h1v10h-1zM916 517h1v19h-1zM917 534h1v2h-1zM918 534h1v2h-1zM919 526h1v10h-1zM920 534h1v2h-1zM921 527h1v9h-1zM922 534h1v2h-1zM923 528h1v8h-1zM924 534h1v2h-1zM925 534h1v2h-1zM926 534h1v2h-1zM927 529h1v7h-1zM928 534h1v2h-1zM929 534h1v2h-1zM930 526h1v10h-1zM931 534h1v1h-1zM932 534h1v1h-1zM933 534h1v2h-1zM934 525h1v11h-1zM935 531h1v5h-1zM936 534h1v2h-1zM937 534h1v2h-1zM938 534h1v2h-1zM939 534h1v2h-1zM940 534h1v2h-1zM941 534h1v2h-1zM942 516h1v20h-1zM943 534h1v2h-1zM944 513h1v22h-1zM945 521h1v15h-1zM946 534h1v2h-1zM947 534h1v2h-1zM948 534h1v2h-1zM949 534h1v2h-1zM950 527h1v9h-1zM951 534h1v2h-1zM952 528h1v8h-1zM953 534h1v1h-1zM954 513h1v22h-1zM955 534h1v1h-1zM956 522h1v13h-1zM957 521h1v14h-1zM958 526h1v9h-1zM959 529h1v7h-1zM960 534h1v1h-1zM961 534h1v1h-1zM962 534h1v1h-1zM963 534h1v1h-1zM964 526h1v9h-1zM965 534h1v1h-1zM966 528h1v7h-1zM967 534h1v1h-1zM968 534h1v1h-1zM969 523h1v12h-1zM970 521h1v14h-1zM971 534h1v2h-1zM972 534h1v2h-1zM973 516h1v19h-1zM974 534h1v1h-1zM975 529h1v6h-1zM976 534h1v1h-1zM977 534h1v1h-1zM978 534h1v1h-1zM979 534h1v1h-1zM980 534h1v1h-1zM981 519h1v16h-1zM982 534h1v1h-1zM983 534h1v1h-1zM984 534h1v1h-1zM985 534h1v1h-1zM986 534h1v1h-1zM987 534h1v2h-1zM988 529h1v7h-1zM989 534h1v1h-1zM990 534h1v1h-1zM991 534h1v1h-1zM992 534h1v1h-1zM993 527h1v8h-1zM994 515h1v20h-1zM995 534h1v1h-1zM996 534h1v1h-1zM997 534h1v1h-1zM998 534h1v2h-1zM999 517h1v19h-1zM1000 534h1v2h-1zM1001 534h1v2h-1zM1002 534h1v2h-1zM1003 527h1v9h-1zM1004 534h1v2h-1zM1005 517h1v19h-1zM1006 531h1v5h-1zM1007 534h1v2h-1zM1008 534h1v2h-1zM1009 534h1v2h-1zM1010 534h1v2h-1zM1011 520h1v15h-1zM1012 534h1v1h-1zM1013 534h1v1h-1zM1014 534h1v1h-1zM1015 534h1v1h-1zM1016 534h1v1h-1zM1017 526h1v9h-1zM1018 525h1v10h-1zM1019 534h1v1h-1zM1020 534h1v1h-1zM1021 526h1v9h-1zM1022 534h1v1h-1zM1023 534h1v1h-1zM1024 534h1v1h-1zM1025 518h1v18h-1zM1026 534h1v2h-1zM1027 531h1v5h-1zM1028 534h1v1h-1zM1029 534h1v1h-1zM1030 534h1v1h-1zM1031 534h1v1h-1zM1032 534h1v2h-1zM1033 534h1v2h-1zM1034 528h1v8h-1zM1035 534h1v2h-1zM1036 522h1v14h-1zM1037 526h1v10h-1zM1038 534h1v2h-1zM1039 534h1v2h-1zM1040 534h1v2h-1zM1041 531h1v5h-1zM1042 523h1v13h-1zM1043 534h1v2h-1zM1044 534h1v2h-1zM1045 534h1v2h-1zM1046 530h1v6h-1zM1047 534h1v2h-1zM1048 534h1v2h-1zM1049 534h1v2h-1zM1050 534h1v2h-1zM1051 534h1v2h-1zM1052 534h1v2h-1zM1053 534h1v2h-1zM1054 534h1v2h-1zM1055 529h1v7h-1zM1056 534h1v2h-1zM1057 534h1v2h-1zM1058 528h1v8h-1zM1059 534h1v2h-1zM1060 534h1v2h-1zM1061 534h1v2h-1zM1062 526h1v10h-1zM1063 528h1v8h-1zM1064 517h1v19h-1zM1065 530h1v6h-1zM1066 534h1v2h-1zM1067 526h1v10h-1zM1068 534h1v2h-1zM1069 527h1v9h-1zM1070 534h1v2h-1zM1071 534h1v2h-1zM1072 534h1v2h-1zM1073 534h1v2h-1zM1074 534h1v2h-1zM1075 534h1v2h-1zM1076 529h1v7h-1zM1077 534h1v2h-1zM1078 534h1v1h-1zM1079 534h1v1h-1zM1080 534h1v1h-1zM1081 534h1v2h-1zM1082 530h1v6h-1zM1083 534h1v2h-1zM1084 530h1v5h-1zM1085 534h1v1h-1zM1086 534h1v1h-1zM1087 526h1v9h-1zM1088 534h1v2h-1zM1089 534h1v2h-1zM1090 524h1v12h-1zM1091 534h1v1h-1zM1092 526h1v9h-1zM1093 534h1v1h-1zM1094 534h1v2h-1zM1095 534h1v2h-1zM1096 534h1v1h-1zM1097 534h1v1h-1zM1098 534h1v1h-1zM1099 534h1v1h-1zM1100 534h1v1h-1zM1101 534h1v1h-1zM1102 534h1v2h-1zM1103 520h1v16h-1zM1104 514h1v22h-1zM1105 534h1v2h-1zM1106 534h1v2h-1zM1107 534h1v1h-1zM1108 534h1v1h-1zM1109 516h1v19h-1zM1110 534h1v1h-1zM1111 534h1v2h-1zM1112 521h1v15h-1zM1113 490h1v46h-1zM1114 534h1v2h-1zM1115 534h1v2h-1zM1116 534h1v2h-1zM1117 534h1v2h-1zM1118 516h1v20h-1zM1119 534h1v1h-1zM1120 530h1v5h-1zM1121 534h1v1h-1zM1122 523h1v12h-1zM1123 529h1v6h-1zM1124 527h1v8h-1zM1125 534h1v1h-1zM1126 534h1v1h-1zM1127 534h1v1h-1zM1128 517h1v19h-1zM1129 534h1v1h-1zM1130 530h1v5h-1zM1131 526h1v9h-1zM1132 534h1v2h-1zM1133 534h1v2h-1zM1134 515h1v21h-1zM1135 534h1v2h-1zM1136 534h1v2h-1zM1137 534h1v2h-1zM1138 527h1v9h-1zM1139 534h1v2h-1zM1140 534h1v2h-1zM1141 534h1v2h-1zM1142 534h1v2h-1zM1143 534h1v2h-1zM1144 534h1v2h-1zM1145 534h1v2h-1zM1146 534h1v1h-1zM1147 534h1v1h-1zM1148 534h1v1h-1zM1149 534h1v1h-1zM1150 534h1v1h-1zM1151 534h1v1h-1zM1152 534h1v1h-1zM1153 534h1v1h-1zM1154 515h1v20h-1zM1155 516h1v19h-1zM1156 534h1v1h-1zM1157 514h1v21h-1zM1158 534h1v1h-1zM1159 534h1v2h-1zM1160 525h1v10h-1zM1161 534h1v1h-1zM1162 529h1v6h-1zM1163 534h1v1h-1zM1164 534h1v1h-1zM1165 534h1v1h-1zM1166 534h1v1h-1zM1167 534h1v1h-1zM1168 534h1v1h-1zM1169 534h1v1h-1zM1170 534h1v1h-1zM1171 534h1v1h-1zM1172 525h1v10h-1zM1173 534h1v1h-1zM1174 534h1v1h-1zM1175 527h1v8h-1zM1176 534h1v2h-1zM1177 531h1v5h-1zM1178 534h1v2h-1zM1179 534h1v2h-1zM1180 534h1v2h-1zM1181 523h1v12h-1zM1182 534h1v1h-1zM1183 534h1v1h-1zM1184 525h1v11h-1zM1185 515h1v21h-1zM1186 534h1v2h-1zM1187 534h1v2h-1zM1188 534h1v1h-1zM1189 534h1v1h-1zM1190 531h1v5h-1zM1191 534h1v2h-1zM1192 522h1v14h-1zM1193 534h1v2h-1zM1194 534h1v1h-1zM1195 534h1v1h-1zM1196 515h1v20h-1zM1197 534h1v1h-1zM1198 517h1v18h-1zM1199 534h1v1h-1zM1200 529h1v6h-1zM1201 518h1v17h-1zM1202 534h1v1h-1zM1203 534h1v1h-1zM1204 530h1v5h-1zM1205 534h1v1h-1zM1206 534h1v1h-1zM1207 534h1v1h-1zM1208 534h1v1h-1zM1209 534h1v1h-1zM1210 534h1v1h-1zM1211 534h1v1h-1zM1212 534h1v1h-1zM1213 534h1v1h-1zM1214 530h1v6h-1zM1215 522h1v14h-1zM1216 534h1v2h-1zM1217 534h1v2h-1zM1218 508h1v28h-1zM1219 526h1v10h-1zM1220 525h1v11h-1zM1221 534h1v2h-1zM1222 534h1v1h-1zM1223 530h1v5h-1zM1224 534h1v1h-1zM1225 534h1v1h-1zM1226 534h1v1h-1zM1227 534h1v1h-1zM1228 534h1v1h-1zM1229 530h1v5h-1zM1230 534h1v1h-1zM1231 534h1v1h-1zM1232 534h1v1h-1zM1233 534h1v1h-1zM1234 534h1v1h-1zM1235 534h1v2h-1zM1236 534h1v2h-1zM1237 534h1v2h-1zM1238 528h1v7h-1zM1239 534h1v2h-1zM1240 534h1v1h-1zM1241 534h1v2h-1zM1242 534h1v2h-1zM1243 529h1v7h-1zM1244 529h1v7h-1zM1245 534h1v2h-1zM1246 534h1v2h-1zM1247 534h1v2h-1zM1248 534h1v1h-1zM1249 534h1v2h-1zM1250 534h1v1h-1zM1251 534h1v2h-1zM1252 534h1v1h-1zM1253 516h1v19h-1zM1254 527h1v8h-1zM1255 530h1v5h-1zM1256 534h1v1h-1zM1257 534h1v1h-1zM1258 534h1v1h-1zM1259 508h1v28h-1zM1260 534h1v1h-1zM1261 534h1v1h-1zM1262 520h1v15h-1zM1263 534h1v1h-1zM1264 521h1v15h-1zM1265 517h1v19h-1zM1266 515h1v21h-1zM1267 534h1v2h-1zM1268 534h1v2h-1zM1269 529h1v7h-1zM1270 525h1v11h-1zM1271 531h1v5h-1zM1272 526h1v9h-1zM1273 534h1v2h-1zM1274 534h1v2h-1zM1275 534h1v2h-1zM1276 528h1v8h-1zM1277 534h1v1h-1zM1278 524h1v11h-1zM1279 534h1v1h-1zM1280 513h1v22h-1zM1281 534h1v1h-1zM1282 520h1v15h-1zM1283 534h1v1h-1zM1284 534h1v2h-1zM1285 534h1v2h-1zM1286 534h1v2h-1zM1287 521h1v15h-1zM1288 534h1v2h-1zM1289 534h1v2h-1zM1290 530h1v6h-1zM1291 534h1v2h-1zM1292 531h1v5h-1zM1293 534h1v2h-1zM1294 534h1v2h-1zM1295 534h1v2h-1zM1296 534h1v2h-1zM1297 534h1v2h-1zM1298 534h1v2h-1zM1299 534h1v2h-1zM1300 534h1v2h-1zM1301 530h1v6h-1zM1302 525h1v11h-1zM1303 518h1v18h-1zM1304 534h1v2h-1zM1305 534h1v2h-1zM1306 534h1v2h-1zM1307 534h1v2h-1zM1308 528h1v8h-1zM1309 534h1v1h-1zM1310 527h1v8h-1zM1311 524h1v11h-1zM1312 534h1v1h-1zM1313 519h1v16h-1zM1314 534h1v2h-1zM1315 516h1v19h-1zM1316 534h1v1h-1zM1317 519h1v16h-1zM1318 534h1v1h-1zM1319 534h1v1h-1zM1320 534h1v1h-1zM1321 534h1v2h-1zM1322 534h1v2h-1zM1323 534h1v2h-1zM1324 534h1v2h-1zM1325 534h1v2h-1zM1326 534h1v2h-1zM1327 534h1v1h-1zM1328 534h1v1h-1zM1329 534h1v1h-1zM1330 534h1v2h-1zM1331 521h1v15h-1zM1332 534h1v2h-1zM1333 534h1v1h-1zM1334 531h1v5h-1zM1335 534h1v1h-1zM1336 534h1v1h-1zM1337 527h1v8h-1zM1338 526h1v9h-1zM1339 534h1v1h-1zM1340 524h1v11h-1zM1341 534h1v1h-1zM1342 534h1v1h-1zM1343 534h1v1h-1zM1344 534h1v1h-1zM1345 526h1v9h-1zM1346 534h1v2h-1zM1347 534h1v2h-1zM1348 534h1v2h-1zM1349 534h1v2h-1zM1350 534h1v2h-1zM1351 520h1v16h-1zM1352 520h1v15h-1zM1353 534h1v1h-1zM1354 534h1v1h-1zM1355 528h1v7h-1zM1356 534h1v1h-1zM1357 534h1v1h-1zM1358 534h1v1h-1zM1359 534h1v2h-1zM1360 534h1v2h-1zM1361 534h1v1h-1zM1362 534h1v1h-1zM1363 534h1v1h-1zM1364 534h1v1h-1zM1365 534h1v1h-1zM1366 519h1v16h-1zM1367 520h1v16h-1zM1368 521h1v15h-1z"/>
<path fill="#56b4e9" d="M94 537h1v1h-1zM95 536h1v2h-1zM96 536h1v2h-1zM97 536h1v2h-1zM98 534h1v4h-1zM99 531h1v7h-1zM100 527h1v5h-1zM100 536h1v2h-1zM101 526h1v1h-1zM101 536h1v2h-1zM102 527h1v5h-1zM102 536h1v2h-1zM103 531h1v7h-1zM104 536h1v2h-1zM105 535h1v1h-1zM105 537h1v1h-1zM106 535h1v1h-1zM106 537h1v1h-1zM107 535h1v1h-1zM107 537h1v1h-1zM108 535h1v1h-1zM108 537h1v1h-1zM109 531h1v7h-1zM110 528h1v4h-1zM110 535h1v1h-1zM110 537h1v1h-1zM111 527h1v1h-1zM111 535h1v2h-1zM112 528h1v4h-1zM112 535h1v2h-1zM113 531h1v6h-1zM114 536h1v1h-1zM115 536h1v1h-1zM116 536h1v1h-1zM117 536h1v1h-1zM118 536h1v1h-1zM119 530h1v7h-1zM120 526h1v5h-1zM120 536h1v1h-1zM121 525h1v1h-1zM121 535h1v2h-1zM122 526h1v11h-1zM123 530h1v7h-1zM124 536h1v1h-1zM125 536h1v1h-1zM126 536h1v1h-1zM127 536h1v1h-1zM128 530h1v7h-1zM129 526h1v5h-1zM129 536h1v1h-1zM130 525h1v1h-1zM130 536h1v1h-1zM131 526h1v5h-1zM131 536h1v1h-1zM132 530h1v7h-1zM133 536h1v1h-1zM134 536h1v1h-1zM135 536h1v1h-1zM136 536h1v1h-1zM137 536h1v1h-1zM138 531h1v6h-1zM139 528h1v4h-1zM139 535h1v2h-1zM140 527h1v1h-1zM140 535h1v2h-1zM141 528h1v4h-1zM141 536h1v1h-1zM142 531h1v6h-1zM143 536h1v1h-1zM144 536h1v1h-1zM145 536h1v1h-1zM146 536h1v1h-1zM147 536h1v1h-1zM148 536h1v1h-1zM149 536h1v1h-1zM150 536h1v1h-1zM151 536h1v1h-1zM152 536h1v1h-1zM153 536h1v1h-1zM154 536h1v1h-1zM155 536h1v1h-1zM156 536h1v1h-1zM157 536h1v1h-1zM158 536h1v1h-1zM159 536h1v1h-1zM160 536h1v1h-1zM161 536h1v1h-1zM162 536h1v1h-1zM163 536h1v1h-1zM164 536h1v1h-1zM165 536h1v1h-1zM166 536h1v1h-1zM167 536h1v1h-1zM168 536h1v1h-1zM169 536h1v1h-1zM170 536h1v1h-1zM171 536h1v1h-1zM172 536h1v1h-1zM173 536h1v1h-1zM174 536h1v1h-1zM175 536h1v1h-1zM176 536h1v1h-1zM177 536h1v1h-1zM178 536h1v1h-1zM179 536h1v1h-1zM180 536h1v1h-1zM181 536h1v1h-1zM182 536h1v1h-1zM183 536h1v1h-1zM184 536h1v1h-1zM185 536h1v1h-1zM186 536h1v1h-1zM187 536h1v1h-1zM188 536h1v1h-1zM189 536h1v1h-1zM190 536h1v1h-1zM191 536h1v1h-1zM192 536h1v1h-1zM193 536h1v1h-1zM194 536h1v1h-1zM195 536h1v1h-1zM196 536h1v1h-1zM197 536h1v1h-1zM198 536h1v1h-1zM199 536h1v1h-1zM200 536h1v1h-1zM201 536h1v1h-1zM202 536h1v1h-1zM203 536h1v1h-1zM204 536h1v1h-1zM205 536h1v1h-1zM206 535h1v2h-1zM207 531h1v6h-1zM208 527h1v5h-1zM208 535h1v2h-1zM209 526h1v1h-1zM209 533h1v4h-1zM210 527h1v5h-1zM210 535h1v2h-1zM211 531h1v6h-1zM212 533h1v4h-1zM213 527h1v10h-1zM214 525h1v2h-1zM214 536h1v1h-1zM215 526h1v11h-1zM216 535h1v2h-1zM217 534h1v3h-1zM218 536h1v1h-1zM219 528h1v9h-1zM220 526h1v2h-1zM220 536h1v1h-1zM221 527h1v10h-1zM222 535h1v2h-1zM223 536h1v1h-1zM224 536h1v1h-1zM225 535h1v2h-1zM226 535h1v2h-1zM227 535h1v2h-1zM228 531h1v6h-1zM229 527h1v5h-1zM229 535h1v2h-1zM230 526h1v1h-1zM230 535h1v2h-1zM231 527h1v10h-1zM232 531h1v6h-1zM233 536h1v1h-1zM234 533h1v4h-1zM235 525h1v12h-1zM236 523h1v2h-1zM236 530h1v7h-1zM237 524h1v13h-1zM238 535h1v2h-1zM239 535h1v2h-1zM240 536h1v1h-1zM241 531h1v6h-1zM242 528h1v4h-1zM242 535h1v2h-1zM243 527h1v1h-1zM243 535h1v2h-1zM244 528h1v4h-1zM244 535h1v2h-1zM245 531h1v6h-1zM246 536h1v1h-1zM247 531h1v6h-1zM248 536h1v1h-1zM249 535h1v2h-1zM250 535h1v2h-1zM251 530h1v7h-1zM252 525h1v6h-1zM252 536h1v1h-1zM253 524h1v1h-1zM253 536h1v1h-1zM254 525h1v6h-1zM254 534h1v3h-1zM255 530h1v7h-1zM256 536h1v1h-1zM257 530h1v7h-1zM258 525h1v6h-1zM258 536h1v1h-1zM259 524h1v1h-1zM259 536h1v1h-1zM260 525h1v6h-1zM260 536h1v1h-1zM261 530h1v7h-1zM262 535h1v2h-1zM263 531h1v6h-1zM264 527h1v5h-1zM264 535h1v2h-1zM265 526h1v1h-1zM265 536h1v1h-1zM266 527h1v5h-1zM266 536h1v1h-1zM267 531h1v6h-1zM268 536h1v1h-1zM269 534h1v3h-1zM270 534h1v3h-1zM271 527h1v10h-1zM272 525h1v2h-1zM272 535h1v2h-1zM273 526h1v11h-1zM274 536h1v1h-1zM275 536h1v1h-1zM276 535h1v2h-1zM277 532h1v5h-1zM278 535h1v2h-1zM279 535h1v1h-1zM280 535h1v1h-1zM281 531h1v6h-1zM282 527h1v5h-1zM282 534h1v3h-1zM283 526h1v1h-1zM283 535h1v2h-1zM284 527h1v5h-1zM284 535h1v2h-1zM285 531h1v6h-1zM286 535h1v2h-1zM287 530h1v7h-1zM288 526h1v10h-1zM289 525h1v1h-1zM289 535h1v1h-1zM290 526h1v10h-1zM291 530h1v7h-1zM292 535h1v1h-1zM293 535h1v1h-1zM294 535h1v1h-1zM295 535h1v1h-1zM296 535h1v1h-1zM297 531h1v6h-1zM298 528h1v4h-1zM298 535h1v1h-1zM299 527h1v1h-1zM299 535h1v1h-1zM300 528h1v4h-1zM300 535h1v1h-1zM301 531h1v6h-1zM302 535h1v2h-1zM303 535h1v2h-1zM304 535h1v2h-1zM305 535h1v2h-1zM306 535h1v1h-1zM307 531h1v6h-1zM308 527h1v5h-1zM308 535h1v1h-1zM309 526h1v1h-1zM309 535h1v1h-1zM310 527h1v5h-1zM310 535h1v1h-1zM311 531h1v6h-1zM312 535h1v1h-1zM313 530h1v6h-1zM314 530h1v7h-1zM315 526h1v5h-1zM315 535h1v1h-1zM316 525h1v1h-1zM316 535h1v1h-1zM317 526h1v5h-1zM317 535h1v1h-1zM318 530h1v7h-1zM319 535h1v1h-1zM320 535h1v1h-1zM321 527h1v10h-1zM322 525h1v2h-1zM322 535h1v1h-1zM323 526h1v11h-1zM324 535h1v1h-1zM325 531h1v6h-1zM326 535h1v2h-1zM327 535h1v2h-1zM328 531h1v6h-1zM329 527h1v5h-1zM329 535h1v2h-1zM330 526h1v1h-1zM330 535h1v2h-1zM331 527h1v5h-1zM331 535h1v2h-1zM332 531h1v6h-1zM333 535h1v2h-1zM334 527h1v10h-1zM335 525h1v2h-1zM335 535h1v2h-1zM336 526h1v11h-1zM337 534h1v3h-1zM338 535h1v2h-1zM339 531h1v6h-1zM340 527h1v10h-1zM341 520h1v8h-1zM341 535h1v2h-1zM342 519h1v1h-1zM342 535h1v2h-1zM343 520h1v8h-1zM343 533h1v4h-1zM344 527h1v10h-1zM345 535h1v2h-1zM346 527h1v10h-1zM347 519h1v9h-1zM347 535h1v2h-1zM348 518h1v1h-1zM348 535h1v2h-1zM349 519h1v9h-1zM349 535h1v2h-1zM350 527h1v10h-1zM351 535h1v2h-1zM352 535h1v2h-1zM353 534h1v3h-1zM354 531h1v6h-1zM355 527h1v5h-1zM355 535h1v1h-1zM356 526h1v1h-1zM356 535h1v2h-1zM357 527h1v10h-1zM358 531h1v6h-1zM359 535h1v2h-1zM360 535h1v1h-1zM361 531h1v6h-1zM362 527h1v5h-1zM362 535h1v1h-1zM363 526h1v1h-1zM363 535h1v1h-1zM364 527h1v5h-1zM364 535h1v2h-1zM365 531h1v6h-1zM366 535h1v1h-1zM367 535h1v2h-1zM368 529h1v8h-1zM369 523h1v7h-1zM369 535h1v1h-1zM370 522h1v1h-1zM370 535h1v1h-1zM371 523h1v7h-1zM371 535h1v1h-1zM372 529h1v8h-1zM373 535h1v2h-1zM374 535h1v2h-1zM375 530h1v7h-1zM376 525h1v6h-1zM376 535h1v2h-1zM377 524h1v1h-1zM377 535h1v1h-1zM378 525h1v6h-1zM378 535h1v1h-1zM379 530h1v7h-1zM380 535h1v2h-1zM381 535h1v1h-1zM382 533h1v3h-1zM383 530h1v7h-1zM384 525h1v6h-1zM384 535h1v1h-1zM385 524h1v1h-1zM385 535h1v1h-1zM386 525h1v6h-1zM386 535h1v1h-1zM387 530h1v7h-1zM388 535h1v1h-1zM389 530h1v7h-1zM390 527h1v5h-1zM390 535h1v1h-1zM391 526h1v1h-1zM391 535h1v1h-1zM392 527h1v5h-1zM392 535h1v1h-1zM393 531h1v6h-1zM394 533h1v3h-1zM395 532h1v5h-1zM396 535h1v2h-1zM397 531h1v6h-1zM398 527h1v5h-1zM398 535h1v1h-1zM399 526h1v1h-1zM399 535h1v2h-1zM400 527h1v5h-1zM400 535h1v2h-1zM401 531h1v6h-1zM402 535h1v2h-1zM403 535h1v2h-1zM404 535h1v2h-1zM405 535h1v2h-1zM406 531h1v6h-1zM407 528h1v4h-1zM407 535h1v2h-1zM408 527h1v1h-1zM408 535h1v1h-1zM409 528h1v4h-1zM409 535h1v1h-1zM410 531h1v6h-1zM411 533h1v4h-1zM412 531h1v6h-1zM413 528h1v4h-1zM413 535h1v2h-1zM414 527h1v1h-1zM414 535h1v2h-1zM415 528h1v4h-1zM415 535h1v2h-1zM416 531h1v6h-1zM417 535h1v2h-1zM418 535h1v2h-1zM419 535h1v1h-1zM420 531h1v6h-1zM421 528h1v4h-1zM421 535h1v1h-1zM422 527h1v1h-1zM422 535h1v1h-1zM423 528h1v4h-1zM423 535h1v1h-1zM424 531h1v6h-1zM425 535h1v1h-1zM426 535h1v1h-1zM427 530h1v7h-1zM428 526h1v5h-1zM428 535h1v1h-1zM429 525h1v1h-1zM429 535h1v1h-1zM430 526h1v5h-1zM430 535h1v2h-1zM431 530h1v7h-1zM432 535h1v2h-1zM433 526h1v11h-1zM434 524h1v2h-1zM434 535h1v2h-1zM435 525h1v12h-1zM436 535h1v2h-1zM437 535h1v1h-1zM438 535h1v1h-1zM439 531h1v6h-1zM440 527h1v5h-1zM440 535h1v1h-1zM441 526h1v1h-1zM441 535h1v1h-1zM442 527h1v5h-1zM442 535h1v1h-1zM443 531h1v6h-1zM444 535h1v2h-1zM445 535h1v2h-1zM446 535h1v1h-1zM447 534h1v2h-1zM448 534h1v2h-1zM449 522h1v15h-1zM450 520h1v2h-1zM450 534h1v2h-1zM451 521h1v16h-1zM452 534h1v2h-1zM453 534h1v2h-1zM454 534h1v2h-1zM455 534h1v2h-1zM456 533h1v3h-1zM457 534h1v2h-1zM458 534h1v2h-1zM459 529h1v8h-1zM460 527h1v2h-1zM460 534h1v2h-1zM461 528h1v9h-1zM462 534h1v1h-1zM462 536h1v1h-1zM463 533h1v4h-1zM464 534h1v1h-1zM464 536h1v1h-1zM465 533h1v4h-1zM466 526h1v11h-1zM467 524h1v2h-1zM467 534h1v1h-1zM467 536h1v1h-1zM468 525h1v12h-1zM469 534h1v2h-1zM470 534h1v2h-1zM471 534h1v2h-1zM472 534h1v1h-1zM472 536h1v1h-1zM473 534h1v1h-1zM473 536h1v1h-1zM474 534h1v1h-1zM474 536h1v1h-1zM475 530h1v7h-1zM476 526h1v5h-1zM476 534h1v1h-1zM476 536h1v1h-1zM477 525h1v1h-1zM477 534h1v1h-1zM477 536h1v1h-1zM478 526h1v5h-1zM478 534h1v2h-1zM479 530h1v7h-1zM480 534h1v2h-1zM481 534h1v2h-1zM482 530h1v7h-1zM483 525h1v6h-1zM483 534h1v1h-1zM483 536h1v1h-1zM484 524h1v1h-1zM484 532h1v5h-1zM485 525h1v6h-1zM485 534h1v2h-1zM486 530h1v7h-1zM487 534h1v1h-1zM487 536h1v1h-1zM488 534h1v1h-1zM488 536h1v1h-1zM489 534h1v1h-1zM489 536h1v1h-1zM490 528h1v9h-1zM491 526h1v2h-1zM491 534h1v2h-1zM492 527h1v10h-1zM493 534h1v2h-1zM494 534h1v2h-1zM495 534h1v2h-1zM496 534h1v1h-1zM496 536h1v1h-1zM497 534h1v1h-1zM497 536h1v1h-1zM498 534h1v1h-1zM498 536h1v1h-1zM499 530h1v7h-1zM500 526h1v5h-1zM500 534h1v2h-1zM501 525h1v1h-1zM501 534h1v2h-1zM502 526h1v5h-1zM502 534h1v2h-1zM503 530h1v7h-1zM504 534h1v2h-1zM505 529h1v8h-1zM506 523h1v7h-1zM506 534h1v2h-1zM507 522h1v1h-1zM507 533h1v3h-1zM508 523h1v7h-1zM508 534h1v2h-1zM509 529h1v8h-1zM510 534h1v2h-1zM511 534h1v2h-1zM512 534h1v1h-1zM512 536h1v1h-1zM513 534h1v3h-1zM514 531h1v6h-1zM515 530h1v7h-1zM516 526h1v5h-1zM516 534h1v2h-1zM517 525h1v1h-1zM517 534h1v2h-1zM518 526h1v5h-1zM518 534h1v2h-1zM519 530h1v7h-1zM520 534h1v2h-1zM521 534h1v2h-1zM522 531h1v6h-1zM523 527h1v5h-1zM523 534h1v2h-1zM524 526h1v1h-1zM524 534h1v2h-1zM525 527h1v5h-1zM525 534h1v2h-1zM526 531h1v6h-1zM527 534h1v2h-1zM528 534h1v2h-1zM529 534h1v2h-1zM530 525h1v12h-1zM531 523h1v2h-1zM531 534h1v2h-1zM532 524h1v13h-1zM533 534h1v2h-1zM534 534h1v2h-1zM535 534h1v2h-1zM536 534h1v1h-1zM536 536h1v1h-1zM537 534h1v1h-1zM537 536h1v1h-1zM538 534h1v1h-1zM538 536h1v1h-1zM539 534h1v1h-1zM539 536h1v1h-1zM540 530h1v7h-1zM541 525h1v6h-1zM541 534h1v2h-1zM542 524h1v1h-1zM542 534h1v2h-1zM543 525h1v6h-1zM543 534h1v2h-1zM544 530h1v7h-1zM545 534h1v1h-1zM545 536h1v1h-1zM546 534h1v1h-1zM546 536h1v1h-1zM547 528h1v9h-1zM548 526h1v2h-1zM548 534h1v1h-1zM548 536h1v1h-1zM549 527h1v10h-1zM550 534h1v1h-1zM550 536h1v1h-1zM551 534h1v1h-1zM551 536h1v1h-1zM552 534h1v2h-1zM553 531h1v6h-1zM554 528h1v4h-1zM554 534h1v2h-1zM555 527h1v1h-1zM555 534h1v2h-1zM556 528h1v4h-1zM556 534h1v2h-1zM557 531h1v6h-1zM558 534h1v2h-1zM559 534h1v2h-1zM560 527h1v10h-1zM561 525h1v2h-1zM561 534h1v2h-1zM562 526h1v11h-1zM563 534h1v1h-1zM563 536h1v1h-1zM564 534h1v1h-1zM564 536h1v1h-1zM565 534h1v2h-1zM566 534h1v2h-1zM567 526h1v11h-1zM568 524h1v2h-1zM568 534h1v1h-1zM568 536h1v1h-1zM569 525h1v12h-1zM570 534h1v1h-1zM570 536h1v1h-1zM571 534h1v1h-1zM571 536h1v1h-1zM572 534h1v2h-1zM573 534h1v2h-1zM574 534h1v2h-1zM575 534h1v2h-1zM576 520h1v17h-1zM577 518h1v2h-1zM577 534h1v2h-1zM578 519h1v18h-1zM579 534h1v1h-1zM579 536h1v1h-1zM580 534h1v2h-1zM581 534h1v2h-1zM582 534h1v2h-1zM583 534h1v1h-1zM583 536h1v1h-1zM584 534h1v1h-1zM584 536h1v1h-1zM585 531h1v6h-1zM586 528h1v4h-1zM586 534h1v2h-1zM587 527h1v1h-1zM587 530h1v6h-1zM588 528h1v8h-1zM589 531h1v6h-1zM590 534h1v2h-1zM591 533h1v4h-1zM592 534h1v1h-1zM592 536h1v1h-1zM593 534h1v1h-1zM593 536h1v1h-1zM594 528h1v9h-1zM595 522h1v7h-1zM595 534h1v1h-1zM595 536h1v1h-1zM596 521h1v1h-1zM596 534h1v1h-1zM596 536h1v1h-1zM597 522h1v7h-1zM597 534h1v1h-1zM597 536h1v1h-1zM598 528h1v9h-1zM599 534h1v3h-1zM600 534h1v3h-1zM601 534h1v1h-1zM601 536h1v1h-1zM602 529h1v8h-1zM603 527h1v2h-1zM603 532h1v4h-1zM604 528h1v9h-1zM605 534h1v1h-1zM605 536h1v1h-1zM606 534h1v2h-1zM607 533h1v3h-1zM608 534h1v2h-1zM609 528h1v9h-1zM610 526h1v2h-1zM610 534h1v1h-1zM610 536h1v1h-1zM611 527h1v10h-1zM612 534h1v2h-1zM613 534h1v2h-1zM614 531h1v5h-1zM615 533h1v4h-1zM616 533h1v1h-1zM616 535h1v1h-1zM617 533h1v1h-1zM617 535h1v1h-1zM618 530h1v7h-1zM619 526h1v5h-1zM619 533h1v1h-1zM619 535h1v1h-1zM620 525h1v1h-1zM620 533h1v1h-1zM620 535h1v1h-1zM621 526h1v5h-1zM621 533h1v1h-1zM621 535h1v1h-1zM622 530h1v7h-1zM623 533h1v1h-1zM623 535h1v1h-1zM624 533h1v1h-1zM624 535h1v1h-1zM625 530h1v7h-1zM626 526h1v5h-1zM626 533h1v1h-1zM626 536h1v1h-1zM627 525h1v1h-1zM627 533h1v4h-1zM628 526h1v5h-1zM628 533h1v1h-1zM628 536h1v1h-1zM629 530h1v7h-1zM630 533h1v1h-1zM630 536h1v1h-1zM631 533h1v1h-1zM631 535h1v1h-1zM632 533h1v1h-1zM632 536h1v1h-1zM633 533h1v3h-1zM634 533h1v1h-1zM634 535h1v1h-1zM635 527h1v10h-1zM636 525h1v2h-1zM636 533h1v1h-1zM636 536h1v1h-1zM637 526h1v11h-1zM638 530h1v6h-1zM639 533h1v1h-1zM639 536h1v1h-1zM640 533h1v1h-1zM640 536h1v1h-1zM641 531h1v6h-1zM642 527h1v5h-1zM642 533h1v1h-1zM642 536h1v1h-1zM643 526h1v1h-1zM643 533h1v1h-1zM643 536h1v1h-1zM644 527h1v5h-1zM644 533h1v1h-1zM644 536h1v1h-1zM645 531h1v6h-1zM646 533h1v1h-1zM646 535h1v1h-1zM647 529h1v8h-1zM648 523h1v7h-1zM648 531h1v5h-1zM649 522h1v1h-1zM649 533h1v1h-1zM649 536h1v1h-1zM650 523h1v7h-1zM650 533h1v1h-1zM650 536h1v1h-1zM651 529h1v8h-1zM652 533h1v1h-1zM652 536h1v1h-1zM653 533h1v1h-1zM653 536h1v1h-1zM654 531h1v6h-1zM655 527h1v5h-1zM655 533h1v1h-1zM655 535h1v1h-1zM656 526h1v1h-1zM656 533h1v1h-1zM656 535h1v1h-1zM657 527h1v9h-1zM658 531h1v6h-1zM659 533h1v1h-1zM659 535h1v1h-1zM660 533h1v1h-1zM660 535h1v1h-1zM661 530h1v6h-1zM662 530h1v7h-1zM663 526h1v5h-1zM663 533h1v1h-1zM663 535h1v1h-1zM664 525h1v1h-1zM664 533h1v1h-1zM664 535h1v1h-1zM665 526h1v5h-1zM665 533h1v1h-1zM665 535h1v1h-1zM666 530h1v7h-1zM667 533h1v1h-1zM667 535h1v1h-1zM668 533h1v1h-1zM668 536h1v1h-1zM669 533h1v1h-1zM669 536h1v1h-1zM670 533h1v1h-1zM670 535h1v1h-1zM671 529h1v8h-1zM672 527h1v2h-1zM672 533h1v1h-1zM672 536h1v1h-1zM673 528h1v9h-1zM674 533h1v1h-1zM674 536h1v1h-1zM675 533h1v1h-1zM675 536h1v1h-1zM676 533h1v1h-1zM676 536h1v1h-1zM677 533h1v1h-1zM677 536h1v1h-1zM678 531h1v6h-1zM679 527h1v5h-1zM679 533h1v1h-1zM679 536h1v1h-1zM680 526h1v1h-1zM680 533h1v1h-1zM680 536h1v1h-1zM681 527h1v5h-1zM681 533h1v1h-1zM681 536h1v1h-1zM682 531h1v6h-1zM683 533h1v1h-1zM683 536h1v1h-1zM684 533h1v1h-1zM684 536h1v1h-1zM685 528h1v9h-1zM686 526h1v2h-1zM686 533h1v1h-1zM686 536h1v1h-1zM687 527h1v10h-1zM688 533h1v1h-1zM688 535h1v1h-1zM689 533h1v1h-1zM689 535h1v1h-1zM690 533h1v1h-1zM690 535h1v1h-1zM691 533h1v1h-1zM691 535h1v1h-1zM692 531h1v6h-1zM693 527h1v5h-1zM693 533h1v1h-1zM693 535h1v1h-1zM694 526h1v1h-1zM694 533h1v1h-1zM694 535h1v1h-1zM695 527h1v5h-1zM695 533h1v1h-1zM695 535h1v1h-1zM696 531h1v6h-1zM697 533h1v1h-1zM697 536h1v1h-1zM698 533h1v1h-1zM698 536h1v1h-1zM699 533h1v1h-1zM699 535h1v1h-1zM700 533h1v1h-1zM700 535h1v1h-1zM701 533h1v1h-1zM701 535h1v1h-1zM702 527h1v10h-1zM703 525h1v2h-1zM703 533h1v1h-1zM703 536h1v1h-1zM704 526h1v11h-1zM705 533h1v1h-1zM705 536h1v1h-1zM706 533h1v1h-1zM706 536h1v1h-1zM707 533h1v1h-1zM707 536h1v1h-1zM708 533h1v1h-1zM708 536h1v1h-1zM709 533h1v1h-1zM709 536h1v1h-1zM710 533h1v1h-1zM710 536h1v1h-1zM711 533h1v4h-1zM712 530h1v7h-1zM713 526h1v5h-1zM713 533h1v1h-1zM713 535h1v1h-1zM714 525h1v1h-1zM714 533h1v1h-1zM714 535h1v1h-1zM715 526h1v5h-1zM715 533h1v1h-1zM715 536h1v1h-1zM716 530h1v7h-1zM717 533h1v1h-1zM717 536h1v1h-1zM718 533h1v1h-1zM718 536h1v1h-1zM719 533h1v1h-1zM719 536h1v1h-1zM720 533h1v1h-1zM720 535h1v1h-1zM721 533h1v1h-1zM721 536h1v1h-1zM722 526h1v11h-1zM723 524h1v2h-1zM723 532h1v5h-1zM724 525h1v12h-1zM725 533h1v1h-1zM725 535h1v1h-1zM726 533h1v1h-1zM726 535h1v1h-1zM727 533h1v1h-1zM727 536h1v1h-1zM728 530h1v7h-1zM729 526h1v5h-1zM729 533h1v1h-1zM729 535h1v1h-1zM730 525h1v1h-1zM730 533h1v1h-1zM730 535h1v1h-1zM731 526h1v5h-1zM731 533h1v1h-1zM731 535h1v1h-1zM732 530h1v7h-1zM733 533h1v1h-1zM733 536h1v1h-1zM734 531h1v6h-1zM735 527h1v5h-1zM735 533h1v1h-1zM735 535h1v1h-1zM736 526h1v1h-1zM736 533h1v1h-1zM736 535h1v1h-1zM737 527h1v5h-1zM737 533h1v1h-1zM737 536h1v1h-1zM738 531h1v6h-1zM739 533h1v1h-1zM739 535h1v1h-1zM740 532h1v4h-1zM741 530h1v6h-1zM742 529h1v8h-1zM743 527h1v2h-1zM743 533h1v1h-1zM743 535h1v1h-1zM744 528h1v9h-1zM745 533h1v1h-1zM745 535h1v1h-1zM746 533h1v1h-1zM746 535h1v1h-1zM747 533h1v1h-1zM747 535h1v1h-1zM748 530h1v7h-1zM749 526h1v10h-1zM750 525h1v1h-1zM750 533h1v1h-1zM750 535h1v1h-1zM751 526h1v5h-1zM751 533h1v1h-1zM751 535h1v1h-1zM752 530h1v7h-1zM753 532h1v4h-1zM754 533h1v1h-1zM754 536h1v1h-1zM755 531h1v6h-1zM756 528h1v4h-1zM756 533h1v1h-1zM756 535h1v1h-1zM757 527h1v1h-1zM757 533h1v1h-1zM757 535h1v1h-1zM758 528h1v4h-1zM758 533h1v1h-1zM758 536h1v1h-1zM759 531h1v6h-1zM760 533h1v1h-1zM760 535h1v1h-1zM761 528h1v9h-1zM762 526h1v2h-1zM762 533h1v1h-1zM762 535h1v1h-1zM763 527h1v10h-1zM764 531h1v5h-1zM765 530h1v6h-1zM766 533h1v1h-1zM766 535h1v1h-1zM767 533h1v1h-1zM767 535h1v1h-1zM768 533h1v1h-1zM768 535h1v1h-1zM769 533h1v1h-1zM769 535h1v1h-1zM770 533h1v1h-1zM770 535h1v1h-1zM771 530h1v7h-1zM772 526h1v10h-1zM773 525h1v1h-1zM773 533h1v1h-1zM773 535h1v1h-1zM774 526h1v10h-1zM775 530h1v7h-1zM776 533h1v4h-1zM777 533h1v1h-1zM777 536h1v1h-1zM778 531h1v5h-1zM779 533h1v1h-1zM779 536h1v1h-1zM780 533h1v1h-1zM780 535h1v1h-1zM781 531h1v6h-1zM782 527h1v6h-1zM782 535h1v1h-1zM783 526h1v1h-1zM783 532h1v1h-1zM783 534h1v3h-1zM784 527h1v6h-1zM784 535h1v1h-1zM785 531h1v6h-1zM786 532h1v1h-1zM786 535h1v1h-1zM787 532h1v1h-1zM787 535h1v1h-1zM788 532h1v1h-1zM788 535h1v1h-1zM789 532h1v1h-1zM789 535h1v1h-1zM790 529h1v8h-1zM791 523h1v7h-1zM791 532h1v1h-1zM791 536h1v1h-1zM792 522h1v1h-1zM792 532h1v1h-1zM792 535h1v1h-1zM793 523h1v7h-1zM793 532h1v1h-1zM793 535h1v1h-1zM794 529h1v8h-1zM795 532h1v1h-1zM795 536h1v1h-1zM796 532h1v1h-1zM796 536h1v1h-1zM797 532h1v1h-1zM797 536h1v1h-1zM798 532h1v1h-1zM798 536h1v1h-1zM799 532h1v1h-1zM799 536h1v1h-1zM800 525h1v12h-1zM801 523h1v2h-1zM801 532h1v1h-1zM801 536h1v1h-1zM802 524h1v13h-1zM803 532h1v1h-1zM803 536h1v1h-1zM804 532h1v1h-1zM804 535h1v1h-1zM805 532h1v1h-1zM805 535h1v1h-1zM806 532h1v1h-1zM806 535h1v1h-1zM807 532h1v1h-1zM807 535h1v1h-1zM808 531h1v6h-1zM809 528h1v5h-1zM809 535h1v1h-1zM810 527h1v1h-1zM810 530h1v6h-1zM811 528h1v5h-1zM811 535h1v1h-1zM812 531h1v6h-1zM813 532h1v1h-1zM813 535h1v1h-1zM814 532h1v1h-1zM814 535h1v1h-1zM815 532h1v5h-1zM816 530h1v7h-1zM817 526h1v5h-1zM817 532h1v1h-1zM817 536h1v1h-1zM818 525h1v1h-1zM818 532h1v1h-1zM818 535h1v1h-1zM819 526h1v5h-1zM819 532h1v4h-1zM820 530h1v7h-1zM821 532h1v1h-1zM821 535h1v1h-1zM822 532h1v1h-1zM822 535h1v1h-1zM823 532h1v1h-1zM823 535h1v1h-1zM824 532h1v1h-1zM824 535h1v1h-1zM825 528h1v9h-1zM826 526h1v2h-1zM826 532h1v1h-1zM826 535h1v1h-1zM827 527h1v10h-1zM828 532h1v1h-1zM828 535h1v1h-1zM829 532h1v1h-1zM829 535h1v1h-1zM830 531h1v5h-1zM831 529h1v8h-1zM832 523h1v7h-1zM832 532h1v1h-1zM832 535h1v1h-1zM833 522h1v1h-1zM833 532h1v1h-1zM833 535h1v1h-1zM834 523h1v7h-1zM834 532h1v1h-1zM834 535h1v1h-1zM835 529h1v8h-1zM836 532h1v1h-1zM836 536h1v1h-1zM837 532h1v1h-1zM837 536h1v1h-1zM838 532h1v1h-1zM838 536h1v1h-1zM839 532h1v1h-1zM839 535h1v1h-1zM840 531h1v6h-1zM841 527h1v6h-1zM841 536h1v1h-1zM842 526h1v1h-1zM842 532h1v1h-1zM842 536h1v1h-1zM843 527h1v6h-1zM843 535h1v1h-1zM844 531h1v6h-1zM845 532h1v1h-1zM845 536h1v1h-1zM846 532h1v1h-1zM846 536h1v1h-1zM847 532h1v1h-1zM847 535h1v1h-1zM848 532h1v1h-1zM848 535h1v1h-1zM849 532h1v1h-1zM849 535h1v1h-1zM850 528h1v9h-1zM851 522h1v7h-1zM851 532h1v1h-1zM851 535h1v1h-1zM852 521h1v1h-1zM852 532h1v1h-1zM852 535h1v1h-1zM853 522h1v7h-1zM853 532h1v1h-1zM853 535h1v1h-1zM854 528h1v9h-1zM855 532h1v1h-1zM855 535h1v1h-1zM856 532h1v1h-1zM856 535h1v1h-1zM857 532h1v1h-1zM857 535h1v1h-1zM858 532h1v1h-1zM858 535h1v1h-1zM859 530h1v7h-1zM860 526h1v5h-1zM860 532h1v4h-1zM861 525h1v1h-1zM861 532h1v1h-1zM861 535h1v1h-1zM862 526h1v5h-1zM862 532h1v1h-1zM862 535h1v1h-1zM863 530h1v7h-1zM864 532h1v1h-1zM864 535h1v1h-1zM865 532h1v1h-1zM865 535h1v1h-1zM866 532h1v1h-1zM866 535h1v1h-1zM867 532h1v1h-1zM867 535h1v1h-1zM868 529h1v8h-1zM869 523h1v7h-1zM869 532h1v1h-1zM869 535h1v1h-1zM870 522h1v1h-1zM870 532h1v1h-1zM870 535h1v1h-1zM871 523h1v7h-1zM871 532h1v1h-1zM871 536h1v1h-1zM872 529h1v8h-1zM873 532h1v1h-1zM873 536h1v1h-1zM874 532h1v1h-1zM874 536h1v1h-1zM875 532h1v1h-1zM875 534h1v3h-1zM876 528h1v9h-1zM877 526h1v2h-1zM877 532h1v1h-1zM877 535h1v1h-1zM878 527h1v10h-1zM879 532h1v1h-1zM879 535h1v1h-1zM880 532h1v1h-1zM880 535h1v1h-1zM881 531h1v5h-1zM882 531h1v6h-1zM883 532h1v1h-1zM883 535h1v1h-1zM884 532h1v1h-1zM884 535h1v1h-1zM885 532h1v1h-1zM885 535h1v1h-1zM886 528h1v9h-1zM887 526h1v2h-1zM887 532h1v4h-1zM888 527h1v10h-1zM889 532h1v1h-1zM889 535h1v1h-1zM890 532h1v1h-1zM890 535h1v1h-1zM891 532h1v1h-1zM891 536h1v1h-1zM892 532h1v1h-1zM892 536h1v1h-1zM893 529h1v8h-1zM894 523h1v7h-1zM894 532h1v1h-1zM894 536h1v1h-1zM895 522h1v1h-1zM895 532h1v1h-1zM895 535h1v1h-1zM896 523h1v7h-1zM896 532h1v1h-1zM896 535h1v1h-1zM897 529h1v8h-1zM898 532h1v1h-1zM898 536h1v1h-1zM899 532h1v1h-1zM899 536h1v1h-1zM900 531h1v6h-1zM901 527h1v6h-1zM901 536h1v1h-1zM902 526h1v1h-1zM902 532h1v1h-1zM902 535h1v1h-1zM903 527h1v6h-1zM903 535h1v1h-1zM904 531h1v6h-1zM905 532h1v1h-1zM905 536h1v1h-1zM906 532h1v1h-1zM906 536h1v1h-1zM907 532h1v1h-1zM907 536h1v1h-1zM908 532h1v1h-1zM908 536h1v1h-1zM909 531h1v6h-1zM910 528h1v5h-1zM910 536h1v1h-1zM911 527h1v1h-1zM911 532h1v1h-1zM911 536h1v1h-1zM912 528h1v8h-1zM913 531h1v6h-1zM914 532h1v1h-1zM914 535h1v1h-1zM915 532h1v1h-1zM915 535h1v1h-1zM916 532h1v1h-1zM916 535h1v1h-1zM917 532h1v1h-1zM917 535h1v1h-1zM918 531h1v6h-1zM919 528h1v5h-1zM919 535h1v1h-1zM920 527h1v1h-1zM920 532h1v1h-1zM920 535h1v1h-1zM921 528h1v5h-1zM921 535h1v1h-1zM922 531h1v6h-1zM923 532h1v4h-1zM924 531h1v6h-1zM925 528h1v5h-1zM925 535h1v1h-1zM926 527h1v1h-1zM926 532h1v1h-1zM926 536h1v1h-1zM927 528h1v5h-1zM927 536h1v1h-1zM928 531h1v6h-1zM929 532h1v1h-1zM929 536h1v1h-1zM930 531h1v6h-1zM931 527h1v6h-1zM931 536h1v1h-1zM932 526h1v1h-1zM932 532h1v1h-1zM932 536h1v1h-1zM933 527h1v6h-1zM933 535h1v1h-1zM934 531h1v6h-1zM935 532h1v1h-1zM935 535h1v1h-1zM936 532h1v1h-1zM936 536h1v1h-1zM937 532h1v1h-1zM937 536h1v1h-1zM938 532h1v1h-1zM938 536h1v1h-1zM939 532h1v1h-1zM939 536h1v1h-1zM940 528h1v9h-1zM941 521h1v8h-1zM941 532h1v1h-1zM941 535h1v1h-1zM942 520h1v1h-1zM942 532h1v4h-1zM943 521h1v8h-1zM943 532h1v1h-1zM943 536h1v1h-1zM944 528h1v9h-1zM945 532h1v1h-1zM945 536h1v1h-1zM946 532h1v1h-1zM946 536h1v1h-1zM947 532h1v1h-1zM947 536h1v1h-1zM948 532h1v1h-1zM948 536h1v1h-1zM949 531h1v6h-1zM950 530h1v7h-1zM951 526h1v6h-1zM951 536h1v1h-1zM952 525h1v1h-1zM952 531h1v1h-1zM952 536h1v1h-1zM953 526h1v10h-1zM954 530h1v7h-1zM955 531h1v1h-1zM955 536h1v1h-1zM956 531h1v1h-1zM956 536h1v1h-1zM957 531h1v1h-1zM957 536h1v1h-1zM958 531h1v1h-1zM958 536h1v1h-1zM959 531h1v1h-1zM959 536h1v1h-1zM960 528h1v9h-1zM961 522h1v7h-1zM961 531h1v1h-1zM961 535h1v1h-1zM962 521h1v1h-1zM962 531h1v1h-1zM962 536h1v1h-1zM963 522h1v7h-1zM963 531h1v1h-1zM963 536h1v1h-1zM964 528h1v9h-1zM965 531h1v1h-1zM965 536h1v1h-1zM966 531h1v1h-1zM966 536h1v1h-1zM967 531h1v1h-1zM967 536h1v1h-1zM968 529h1v8h-1zM969 524h1v6h-1zM969 531h1v6h-1zM970 523h1v1h-1zM970 531h1v1h-1zM970 536h1v1h-1zM971 524h1v6h-1zM971 531h1v5h-1zM972 529h1v8h-1zM973 531h1v5h-1zM974 531h1v1h-1zM974 535h1v1h-1zM975 531h1v1h-1zM975 535h1v1h-1zM976 530h1v7h-1zM977 526h1v6h-1zM977 535h1v1h-1zM978 525h1v1h-1zM978 531h1v1h-1zM978 536h1v1h-1zM979 526h1v6h-1zM979 536h1v1h-1zM980 530h1v7h-1zM981 531h1v1h-1zM981 535h1v1h-1zM982 531h1v1h-1zM982 536h1v1h-1zM983 531h1v1h-1zM983 536h1v1h-1zM984 526h1v11h-1zM985 524h1v2h-1zM985 531h1v1h-1zM985 533h1v4h-1zM986 525h1v12h-1zM987 531h1v1h-1zM987 536h1v1h-1zM988 531h1v1h-1zM988 534h1v3h-1zM989 531h1v1h-1zM989 536h1v1h-1zM990 531h1v1h-1zM990 536h1v1h-1zM991 525h1v12h-1zM992 523h1v2h-1zM992 531h1v1h-1zM992 536h1v1h-1zM993 524h1v13h-1zM994 531h1v1h-1zM994 536h1v1h-1zM995 531h1v1h-1zM995 536h1v1h-1zM996 531h1v5h-1zM997 531h1v6h-1zM998 528h1v4h-1zM998 536h1v1h-1zM999 527h1v1h-1zM999 531h1v1h-1zM999 536h1v1h-1zM1000 528h1v4h-1zM1000 536h1v1h-1zM1001 531h1v6h-1zM1002 531h1v1h-1zM1002 535h1v1h-1zM1003 531h1v1h-1zM1003 535h1v1h-1zM1004 531h1v6h-1zM1005 528h1v4h-1zM1005 535h1v1h-1zM1006 527h1v1h-1zM1006 531h1v1h-1zM1006 535h1v1h-1zM1007 528h1v4h-1zM1007 535h1v1h-1zM1008 531h1v6h-1zM1009 531h1v1h-1zM1009 535h1v1h-1zM1010 531h1v1h-1zM1010 535h1v1h-1zM1011 531h1v1h-1zM1011 535h1v1h-1zM1012 531h1v1h-1zM1012 535h1v1h-1zM1013 531h1v1h-1zM1013 535h1v1h-1zM1014 531h1v6h-1zM1015 527h1v5h-1zM1015 535h1v1h-1zM1016 526h1v1h-1zM1016 531h1v1h-1zM1016 535h1v1h-1zM1017 527h1v5h-1zM1017 535h1v1h-1zM1018 531h1v6h-1zM1019 531h1v1h-1zM1019 535h1v1h-1zM1020 531h1v1h-1zM1020 535h1v1h-1zM1021 531h1v1h-1zM1021 535h1v1h-1zM1022 531h1v1h-1zM1022 536h1v1h-1zM1023 531h1v1h-1zM1023 536h1v1h-1zM1024 531h1v6h-1zM1025 527h1v5h-1zM1025 535h1v1h-1zM1026 526h1v1h-1zM1026 531h1v1h-1zM1026 535h1v1h-1zM1027 527h1v5h-1zM1027 535h1v1h-1zM1028 531h1v6h-1zM1029 531h1v1h-1zM1029 535h1v1h-1zM1030 525h1v12h-1zM1031 523h1v2h-1zM1031 531h1v1h-1zM1031 535h1v1h-1zM1032 524h1v13h-1zM1033 531h1v1h-1zM1033 535h1v1h-1zM1034 531h1v1h-1zM1034 535h1v1h-1zM1035 531h1v1h-1zM1035 535h1v1h-1zM1036 531h1v1h-1zM1036 535h1v1h-1zM1037 531h1v6h-1zM1038 527h1v5h-1zM1038 535h1v1h-1zM1039 526h1v1h-1zM1039 531h1v1h-1zM1039 535h1v1h-1zM1040 527h1v5h-1zM1040 535h1v1h-1zM1041 531h1v6h-1zM1042 531h1v1h-1zM1042 535h1v1h-1zM1043 531h1v1h-1zM1043 535h1v1h-1zM1044 531h1v1h-1zM1044 536h1v1h-1zM1045 531h1v1h-1zM1045 536h1v1h-1zM1046 524h1v13h-1zM1047 522h1v2h-1zM1047 531h1v1h-1zM1047 536h1v1h-1zM1048 523h1v14h-1zM1049 531h1v1h-1zM1049 536h1v1h-1zM1050 531h1v1h-1zM1050 536h1v1h-1zM1051 531h1v1h-1zM1051 535h1v1h-1zM1052 531h1v1h-1zM1052 536h1v1h-1zM1053 531h1v1h-1zM1053 535h1v1h-1zM1054 531h1v1h-1zM1054 535h1v1h-1zM1055 531h1v1h-1zM1055 535h1v1h-1zM1056 527h1v10h-1zM1057 525h1v2h-1zM1057 531h1v1h-1zM1057 535h1v1h-1zM1058 526h1v11h-1zM1059 531h1v1h-1zM1059 535h1v1h-1zM1060 531h1v1h-1zM1060 535h1v1h-1zM1061 531h1v1h-1zM1061 535h1v1h-1zM1062 531h1v1h-1zM1062 535h1v1h-1zM1063 527h1v10h-1zM1064 525h1v2h-1zM1064 531h1v1h-1zM1064 536h1v1h-1zM1065 526h1v11h-1zM1066 531h1v1h-1zM1066 534h1v3h-1zM1067 531h1v1h-1zM1067 533h1v4h-1zM1068 531h1v1h-1zM1068 536h1v1h-1zM1069 531h1v1h-1zM1069 536h1v1h-1zM1070 531h1v6h-1zM1071 528h1v4h-1zM1071 535h1v1h-1zM1072 527h1v1h-1zM1072 531h1v1h-1zM1072 536h1v1h-1zM1073 528h1v4h-1zM1073 536h1v1h-1zM1074 531h1v6h-1zM1075 531h1v1h-1zM1075 536h1v1h-1zM1076 531h1v6h-1zM1077 528h1v4h-1zM1077 536h1v1h-1zM1078 527h1v1h-1zM1078 531h1v1h-1zM1078 536h1v1h-1zM1079 528h1v4h-1zM1079 536h1v1h-1zM1080 531h1v6h-1zM1081 531h1v1h-1zM1081 536h1v1h-1zM1082 531h1v1h-1zM1082 536h1v1h-1zM1083 531h1v1h-1zM1083 536h1v1h-1zM1084 531h1v1h-1zM1084 536h1v1h-1zM1085 531h1v6h-1zM1086 528h1v8h-1zM1087 527h1v1h-1zM1087 531h1v1h-1zM1087 535h1v1h-1zM1088 528h1v4h-1zM1088 535h1v1h-1zM1089 531h1v6h-1zM1090 531h1v1h-1zM1090 536h1v1h-1zM1091 525h1v12h-1zM1092 523h1v2h-1zM1092 531h1v1h-1zM1092 536h1v1h-1zM1093 524h1v13h-1zM1094 531h1v1h-1zM1094 536h1v1h-1zM1095 531h1v1h-1zM1095 536h1v1h-1zM1096 531h1v1h-1zM1096 535h1v1h-1zM1097 530h1v6h-1zM1098 528h1v9h-1zM1099 522h1v7h-1zM1099 531h1v1h-1zM1099 535h1v1h-1zM1100 521h1v1h-1zM1100 531h1v1h-1zM1100 536h1v1h-1zM1101 522h1v7h-1zM1101 531h1v1h-1zM1101 536h1v1h-1zM1102 528h1v9h-1zM1103 531h1v1h-1zM1103 536h1v1h-1zM1104 531h1v6h-1zM1105 527h1v5h-1zM1105 536h1v1h-1zM1106 526h1v1h-1zM1106 531h1v1h-1zM1106 536h1v1h-1zM1107 527h1v5h-1zM1107 536h1v1h-1zM1108 531h1v6h-1zM1109 531h1v1h-1zM1109 536h1v1h-1zM1110 527h1v10h-1zM1111 525h1v2h-1zM1111 531h1v1h-1zM1111 535h1v1h-1zM1112 526h1v11h-1zM1113 531h1v1h-1zM1113 536h1v1h-1zM1114 531h1v1h-1zM1114 535h1v1h-1zM1115 531h1v1h-1zM1115 535h1v1h-1zM1116 531h1v1h-1zM1116 535h1v1h-1zM1117 530h1v7h-1zM1118 525h1v6h-1zM1118 532h1v4h-1zM1119 524h1v1h-1zM1119 530h1v1h-1zM1119 535h1v1h-1zM1120 525h1v6h-1zM1120 535h1v1h-1zM1121 530h1v7h-1zM1122 530h1v1h-1zM1122 536h1v1h-1zM1123 530h1v1h-1zM1123 536h1v1h-1zM1124 530h1v1h-1zM1124 536h1v1h-1zM1125 530h1v1h-1zM1125 536h1v1h-1zM1126 525h1v12h-1zM1127 523h1v2h-1zM1127 530h1v1h-1zM1127 535h1v1h-1zM1128 524h1v13h-1zM1129 530h1v1h-1zM1129 536h1v1h-1zM1130 530h1v1h-1zM1130 536h1v1h-1zM1131 530h1v1h-1zM1131 533h1v4h-1zM1132 530h1v7h-1zM1133 528h1v4h-1zM1133 535h1v1h-1zM1134 527h1v1h-1zM1134 530h1v1h-1zM1134 535h1v1h-1zM1135 528h1v4h-1zM1135 535h1v1h-1zM1136 530h1v7h-1zM1137 530h1v1h-1zM1137 536h1v1h-1zM1138 529h1v8h-1zM1139 524h1v7h-1zM1139 536h1v1h-1zM1140 523h1v1h-1zM1140 530h1v1h-1zM1140 536h1v1h-1zM1141 524h1v7h-1zM1141 536h1v1h-1zM1142 529h1v8h-1zM1143 530h1v1h-1zM1143 536h1v1h-1zM1144 530h1v1h-1zM1144 536h1v1h-1zM1145 529h1v8h-1zM1146 524h1v7h-1zM1146 532h1v4h-1zM1147 523h1v1h-1zM1147 530h1v1h-1zM1147 533h1v3h-1zM1148 524h1v7h-1zM1148 535h1v1h-1zM1149 529h1v8h-1zM1150 530h1v1h-1zM1150 536h1v1h-1zM1151 530h1v1h-1zM1151 535h1v1h-1zM1152 530h1v1h-1zM1152 536h1v1h-1zM1153 528h1v9h-1zM1154 526h1v2h-1zM1154 530h1v1h-1zM1154 536h1v1h-1zM1155 527h1v10h-1zM1156 530h1v1h-1zM1156 536h1v1h-1zM1157 530h1v1h-1zM1157 536h1v1h-1zM1158 530h1v1h-1zM1158 536h1v1h-1zM1159 529h1v8h-1zM1160 527h1v2h-1zM1160 530h1v1h-1zM1160 536h1v1h-1zM1161 528h1v9h-1zM1162 530h1v1h-1zM1162 534h1v3h-1zM1163 530h1v1h-1zM1163 535h1v1h-1zM1164 530h1v1h-1zM1164 536h1v1h-1zM1165 530h1v7h-1zM1166 525h1v6h-1zM1166 536h1v1h-1zM1167 524h1v1h-1zM1167 530h1v1h-1zM1167 535h1v1h-1zM1168 525h1v6h-1zM1168 535h1v1h-1zM1169 530h1v7h-1zM1170 530h1v1h-1zM1170 536h1v1h-1zM1171 529h1v8h-1zM1172 527h1v2h-1zM1172 530h1v1h-1zM1172 535h1v1h-1zM1173 528h1v9h-1zM1174 530h1v1h-1zM1174 535h1v1h-1zM1175 530h1v1h-1zM1175 535h1v1h-1zM1176 530h1v1h-1zM1176 536h1v1h-1zM1177 530h1v1h-1zM1177 536h1v1h-1zM1178 530h1v1h-1zM1178 536h1v1h-1zM1179 530h1v1h-1zM1179 536h1v1h-1zM1180 529h1v8h-1zM1181 524h1v7h-1zM1181 535h1v1h-1zM1182 523h1v1h-1zM1182 530h1v1h-1zM1182 535h1v1h-1zM1183 524h1v7h-1zM1183 535h1v1h-1zM1184 529h1v8h-1zM1185 530h1v1h-1zM1185 535h1v1h-1zM1186 530h1v1h-1zM1186 536h1v1h-1zM1187 530h1v7h-1zM1188 526h1v5h-1zM1188 536h1v1h-1zM1189 525h1v1h-1zM1189 530h1v1h-1zM1189 536h1v1h-1zM1190 526h1v5h-1zM1190 536h1v1h-1zM1191 530h1v7h-1zM1192 530h1v1h-1zM1192 536h1v1h-1zM1193 530h1v1h-1zM1193 536h1v1h-1zM1194 527h1v10h-1zM1195 525h1v2h-1zM1195 530h1v1h-1zM1195 536h1v1h-1zM1196 526h1v11h-1zM1197 530h1v1h-1zM1197 536h1v1h-1zM1198 530h1v1h-1zM1198 536h1v1h-1zM1199 530h1v7h-1zM1200 530h1v7h-1zM1201 526h1v11h-1zM1202 525h1v1h-1zM1202 530h1v1h-1zM1202 534h1v3h-1zM1203 526h1v5h-1zM1203 536h1v1h-1zM1204 530h1v7h-1zM1205 530h1v1h-1zM1205 535h1v1h-1zM1206 530h1v1h-1zM1206 536h1v1h-1zM1207 530h1v1h-1zM1207 536h1v1h-1zM1208 530h1v1h-1zM1208 536h1v1h-1zM1209 529h1v8h-1zM1210 524h1v7h-1zM1210 536h1v1h-1zM1211 523h1v1h-1zM1211 530h1v1h-1zM1211 536h1v1h-1zM1212 524h1v7h-1zM1212 536h1v1h-1zM1213 529h1v8h-1zM1214 530h1v1h-1zM1214 535h1v1h-1zM1215 530h1v1h-1zM1215 535h1v1h-1zM1216 530h1v1h-1zM1216 536h1v1h-1zM1217 530h1v7h-1zM1218 526h1v5h-1zM1218 536h1v1h-1zM1219 525h1v1h-1zM1219 530h1v1h-1zM1219 536h1v1h-1zM1220 526h1v5h-1zM1220 536h1v1h-1zM1221 530h1v7h-1zM1222 530h1v1h-1zM1222 536h1v1h-1zM1223 530h1v1h-1zM1223 536h1v1h-1zM1224 530h1v1h-1zM1224 536h1v1h-1zM1225 530h1v1h-1zM1225 536h1v1h-1zM1226 530h1v1h-1zM1226 536h1v1h-1zM1227 530h1v7h-1zM1228 526h1v5h-1zM1228 535h1v1h-1zM1229 525h1v1h-1zM1229 530h1v1h-1zM1229 535h1v1h-1zM1230 526h1v5h-1zM1230 535h1v1h-1zM1231 530h1v7h-1zM1232 530h1v1h-1zM1232 535h1v1h-1zM1233 530h1v6h-1zM1234 530h1v1h-1zM1234 535h1v1h-1zM1235 530h1v7h-1zM1236 528h1v4h-1zM1236 535h1v1h-1zM1237 527h1v1h-1zM1237 530h1v1h-1zM1237 535h1v1h-1zM1238 528h1v4h-1zM1238 535h1v1h-1zM1239 530h1v7h-1zM1240 530h1v1h-1zM1240 536h1v1h-1zM1241 530h1v1h-1zM1241 533h1v4h-1zM1242 528h1v9h-1zM1243 521h1v8h-1zM1243 530h1v1h-1zM1243 536h1v1h-1zM1244 520h1v1h-1zM1244 530h1v1h-1zM1244 536h1v1h-1zM1245 521h1v8h-1zM1245 530h1v1h-1zM1245 532h1v5h-1zM1246 528h1v9h-1zM1247 530h1v1h-1zM1247 535h1v1h-1zM1248 530h1v1h-1zM1248 535h1v1h-1zM1249 530h1v1h-1zM1249 535h1v1h-1zM1250 530h1v7h-1zM1251 528h1v4h-1zM1251 535h1v1h-1zM1252 527h1v1h-1zM1252 530h1v1h-1zM1252 535h1v1h-1zM1253 528h1v4h-1zM1253 535h1v1h-1zM1254 530h1v7h-1zM1255 530h1v1h-1zM1255 535h1v1h-1zM1256 528h1v9h-1zM1257 526h1v2h-1zM1257 530h1v1h-1zM1257 536h1v1h-1zM1258 527h1v10h-1zM1259 530h1v1h-1zM1259 536h1v1h-1zM1260 530h1v1h-1zM1260 536h1v1h-1zM1261 530h1v1h-1zM1261 536h1v1h-1zM1262 530h1v1h-1zM1262 536h1v1h-1zM1263 530h1v1h-1zM1263 536h1v1h-1zM1264 530h1v1h-1zM1264 536h1v1h-1zM1265 530h1v1h-1zM1265 536h1v1h-1zM1266 526h1v11h-1zM1267 524h1v2h-1zM1267 530h1v1h-1zM1267 536h1v1h-1zM1268 525h1v12h-1zM1269 530h1v1h-1zM1269 535h1v1h-1zM1270 530h1v1h-1zM1270 535h1v1h-1zM1271 530h1v1h-1zM1271 535h1v1h-1zM1272 530h1v7h-1zM1273 528h1v4h-1zM1273 535h1v1h-1zM1274 527h1v1h-1zM1274 530h1v1h-1zM1274 535h1v1h-1zM1275 528h1v4h-1zM1275 535h1v1h-1zM1276 530h1v7h-1zM1277 530h1v1h-1zM1277 535h1v1h-1zM1278 530h1v1h-1zM1278 535h1v1h-1zM1279 530h1v1h-1zM1279 536h1v1h-1zM1280 530h1v1h-1zM1280 536h1v1h-1zM1281 524h1v13h-1zM1282 522h1v2h-1zM1282 530h1v1h-1zM1282 536h1v1h-1zM1283 523h1v14h-1zM1284 530h1v1h-1zM1284 532h1v5h-1zM1285 530h1v1h-1zM1285 536h1v1h-1zM1286 529h1v1h-1zM1286 536h1v1h-1zM1287 529h1v1h-1zM1287 533h1v4h-1zM1288 529h1v1h-1zM1288 536h1v1h-1zM1289 529h1v1h-1zM1289 531h1v6h-1zM1290 527h1v5h-1zM1290 536h1v1h-1zM1291 526h1v1h-1zM1291 529h1v1h-1zM1291 535h1v1h-1zM1292 527h1v5h-1zM1292 535h1v1h-1zM1293 529h1v1h-1zM1293 531h1v6h-1zM1294 529h1v1h-1zM1294 535h1v1h-1zM1295 529h1v1h-1zM1295 532h1v4h-1zM1296 529h1v1h-1zM1296 535h1v1h-1zM1297 529h1v8h-1zM1298 527h1v3h-1zM1298 535h1v1h-1zM1299 528h1v9h-1zM1300 529h1v1h-1zM1300 535h1v1h-1zM1301 529h1v1h-1zM1301 535h1v1h-1zM1302 529h1v1h-1zM1302 535h1v1h-1zM1303 529h1v1h-1zM1303 535h1v1h-1zM1304 528h1v9h-1zM1305 526h1v2h-1zM1305 529h1v1h-1zM1305 535h1v1h-1zM1306 527h1v10h-1zM1307 529h1v1h-1zM1307 535h1v1h-1zM1308 529h1v1h-1zM1308 535h1v1h-1zM1309 529h1v1h-1zM1309 535h1v1h-1zM1310 529h1v1h-1zM1310 535h1v1h-1zM1311 529h1v1h-1zM1311 535h1v1h-1zM1312 529h1v1h-1zM1312 536h1v1h-1zM1313 529h1v1h-1zM1313 531h1v6h-1zM1314 527h1v5h-1zM1314 536h1v1h-1zM1315 526h1v1h-1zM1315 529h1v1h-1zM1315 536h1v1h-1zM1316 527h1v5h-1zM1316 536h1v1h-1zM1317 529h1v1h-1zM1317 531h1v6h-1zM1318 529h1v1h-1zM1318 535h1v1h-1zM1319 529h1v1h-1zM1319 536h1v1h-1zM1320 529h1v1h-1zM1320 535h1v1h-1zM1321 529h1v1h-1zM1321 535h1v1h-1zM1322 529h1v8h-1zM1323 526h1v10h-1zM1324 525h1v1h-1zM1324 529h1v1h-1zM1324 532h1v4h-1zM1325 526h1v5h-1zM1325 535h1v1h-1zM1326 529h1v8h-1zM1327 529h1v1h-1zM1327 535h1v1h-1zM1328 529h1v1h-1zM1328 535h1v1h-1zM1329 529h1v1h-1zM1329 535h1v1h-1zM1330 529h1v1h-1zM1330 531h1v6h-1zM1331 527h1v5h-1zM1331 535h1v1h-1zM1332 526h1v1h-1zM1332 529h1v7h-1zM1333 527h1v5h-1zM1333 535h1v1h-1zM1334 529h1v1h-1zM1334 531h1v6h-1zM1335 529h1v1h-1zM1335 535h1v1h-1zM1336 529h1v1h-1zM1336 535h1v1h-1zM1337 529h1v1h-1zM1337 535h1v1h-1zM1338 529h1v1h-1zM1338 531h1v6h-1zM1339 527h1v5h-1zM1339 535h1v1h-1zM1340 526h1v1h-1zM1340 529h1v1h-1zM1340 535h1v1h-1zM1341 527h1v5h-1zM1341 535h1v1h-1zM1342 512h1v25h-1zM1343 529h1v1h-1zM1343 535h1v1h-1zM1344 529h1v1h-1zM1344 535h1v1h-1zM1345 529h1v1h-1zM1345 535h1v1h-1zM1346 529h1v1h-1zM1346 535h1v1h-1zM1347 529h1v1h-1zM1347 535h1v1h-1zM1348 529h1v8h-1zM1349 525h1v6h-1zM1349 536h1v1h-1zM1350 524h1v1h-1zM1350 529h1v1h-1zM1350 536h1v1h-1zM1351 525h1v6h-1zM1351 536h1v1h-1zM1352 529h1v8h-1zM1353 529h1v1h-1zM1353 536h1v1h-1zM1354 529h1v1h-1zM1354 531h1v6h-1zM1355 527h1v5h-1zM1355 536h1v1h-1zM1356 526h1v1h-1zM1356 529h1v1h-1zM1356 536h1v1h-1zM1357 527h1v5h-1zM1357 536h1v1h-1zM1358 529h1v1h-1zM1358 531h1v6h-1zM1359 529h1v1h-1zM1359 531h1v5h-1zM1360 529h1v1h-1zM1360 535h1v1h-1zM1361 529h1v1h-1zM1361 536h1v1h-1zM1362 529h1v1h-1zM1362 536h1v1h-1zM1363 529h1v1h-1zM1363 536h1v1h-1zM1364 529h1v1h-1zM1364 536h1v1h-1zM1365 529h1v1h-1zM1365 536h1v1h-1zM1366 529h1v1h-1zM1366 536h1v1h-1zM1367 529h1v1h-1zM1367 532h1v5h-1zM1368 529h1v1h-1zM1368 536h1v1h-1z"/>
<rect x="511.1" y="481.1" width="13" height="13" fill="#f0e442"/>
<circle cx="96.5" cy="498.5" r="5.3" fill="none" stroke="#0072b2" stroke-width="1.1" shape-rendering="crispEdges"/>
<path d="M96.5 492.0v2M96.5 503.0v2M90.0 498.5h2M101.0 498.5h2" stroke="#0072b2" stroke-width="1" shape-rendering="crispEdges"/>
<circle cx="143.5" cy="498.5" r="5.3" fill="none" stroke="#0072b2" stroke-width="1.1" shape-rendering="crispEdges"/>
<path d="M143.5 492.0v2M143.5 503.0v2M137.0 498.5h2M148.0 498.5h2" stroke="#0072b2" stroke-width="1" shape-rendering="crispEdges"/>
<circle cx="202.5" cy="498.5" r="5.3" fill="none" stroke="#0072b2" stroke-width="1.1" shape-rendering="crispEdges"/>
<path d="M202.5 492.0v2M202.5 503.0v2M196.0 498.5h2M207.0 498.5h2" stroke="#0072b2" stroke-width="1" shape-rendering="crispEdges"/>
<circle cx="249.5" cy="499.5" r="5.3" fill="none" stroke="#0072b2" stroke-width="1.1" shape-rendering="crispEdges"/>
<path d="M249.5 493.0v2M249.5 504.0v2M243.0 499.5h2M254.0 499.5h2" stroke="#0072b2" stroke-width="1" shape-rendering="crispEdges"/>
<circle cx="255.5" cy="512.5" r="5.3" fill="none" stroke="#0072b2" stroke-width="1.1" shape-rendering="crispEdges"/>
<path d="M255.5 506.0v2M255.5 517.0v2M249.0 512.5h2M260.0 512.5h2" stroke="#0072b2" stroke-width="1" shape-rendering="crispEdges"/>
<circle cx="302.5" cy="520.5" r="5.3" fill="none" stroke="#0072b2" stroke-width="1.1" shape-rendering="crispEdges"/>
<path d="M302.5 514.0v2M302.5 525.0v2M296.0 520.5h2M307.0 520.5h2" stroke="#0072b2" stroke-width="1" shape-rendering="crispEdges"/>
<circle cx="308.5" cy="520.5" r="5.3" fill="none" stroke="#0072b2" stroke-width="1.1" shape-rendering="crispEdges"/>
<path d="M308.5 514.0v2M308.5 525.0v2M302.0 520.5h2M313.0 520.5h2" stroke="#0072b2" stroke-width="1" shape-rendering="crispEdges"/>
<circle cx="355.5" cy="520.5" r="5.3" fill="none" stroke="#0072b2" stroke-width="1.1" shape-rendering="crispEdges"/>
<path d="M355.5 514.0v2M355.5 525.0v2M349.0 520.5h2M360.0 520.5h2" stroke="#0072b2" stroke-width="1" shape-rendering="crispEdges"/>
<circle cx="361.5" cy="498.5" r="5.3" fill="none" stroke="#0072b2" stroke-width="1.1" shape-rendering="crispEdges"/>
<path d="M361.5 492.0v2M361.5 503.0v2M355.0 498.5h2M366.0 498.5h2" stroke="#0072b2" stroke-width="1" shape-rendering="crispEdges"/>
<circle cx="407.5" cy="498.5" r="5.3" fill="none" stroke="#0072b2" stroke-width="1.1" shape-rendering="crispEdges"/>
<path d="M407.5 492.0v2M407.5 503.0v2M401.0 498.5h2M412.0 498.5h2" stroke="#0072b2" stroke-width="1" shape-rendering="crispEdges"/>
<circle cx="415.5" cy="497.5" r="5.3" fill="none" stroke="#0072b2" stroke-width="1.1" shape-rendering="crispEdges"/>
<path d="M415.5 491.0v2M415.5 502.0v2M409.0 497.5h2M420.0 497.5h2" stroke="#0072b2" stroke-width="1" shape-rendering="crispEdges"/>
<circle cx="461.5" cy="497.5" r="5.3" fill="none" stroke="#0072b2" stroke-width="1.1" shape-rendering="crispEdges"/>
<path d="M461.5 491.0v2M461.5 502.0v2M455.0 497.5h2M466.0 497.5h2" stroke="#0072b2" stroke-width="1" shape-rendering="crispEdges"/>
<circle cx="468.5" cy="513.5" r="5.3" fill="none" stroke="#0072b2" stroke-width="1.1" shape-rendering="crispEdges"/>
<path d="M468.5 507.0v2M468.5 518.0v2M462.0 513.5h2M473.0 513.5h2" stroke="#0072b2" stroke-width="1" shape-rendering="crispEdges"/>
<circle cx="515.5" cy="498.5" r="5.3" fill="none" stroke="#0072b2" stroke-width="1.1" shape-rendering="crispEdges"/>
<path d="M515.5 492.0v2M515.5 503.0v2M509.0 498.5h2M520.0 498.5h2" stroke="#0072b2" stroke-width="1" shape-rendering="crispEdges"/>
<circle cx="521.5" cy="522.5" r="5.3" fill="none" stroke="#0072b2" stroke-width="1.1" shape-rendering="crispEdges"/>
<path d="M521.5 516.0v2M521.5 527.0v2M515.0 522.5h2M526.0 522.5h2" stroke="#0072b2" stroke-width="1" shape-rendering="crispEdges"/>
<circle cx="568.5" cy="496.5" r="5.3" fill="none" stroke="#0072b2" stroke-width="1.1" shape-rendering="crispEdges"/>
<path d="M568.5 490.0v2M568.5 501.0v2M562.0 496.5h2M573.0 496.5h2" stroke="#0072b2" stroke-width="1" shape-rendering="crispEdges"/>
<circle cx="574.5" cy="522.5" r="5.3" fill="none" stroke="#0072b2" stroke-width="1.1" shape-rendering="crispEdges"/>
<path d="M574.5 516.0v2M574.5 527.0v2M568.0 522.5h2M579.0 522.5h2" stroke="#0072b2" stroke-width="1" shape-rendering="crispEdges"/>
<circle cx="621.5" cy="513.5" r="5.3" fill="none" stroke="#0072b2" stroke-width="1.1" shape-rendering="crispEdges"/>
<path d="M621.5 507.0v2M621.5 518.0v2M615.0 513.5h2M626.0 513.5h2" stroke="#0072b2" stroke-width="1" shape-rendering="crispEdges"/>
<circle cx="627.5" cy="520.5" r="5.3" fill="none" stroke="#0072b2" stroke-width="1.1" shape-rendering="crispEdges"/>
<path d="M627.5 514.0v2M627.5 525.0v2M621.0 520.5h2M632.0 520.5h2" stroke="#0072b2" stroke-width="1" shape-rendering="crispEdges"/>
<circle cx="674.5" cy="519.5" r="5.3" fill="none" stroke="#0072b2" stroke-width="1.1" shape-rendering="crispEdges"/>
<path d="M674.5 513.0v2M674.5 524.0v2M668.0 519.5h2M679.0 519.5h2" stroke="#0072b2" stroke-width="1" shape-rendering="crispEdges"/>
<circle cx="680.5" cy="518.5" r="5.3" fill="none" stroke="#0072b2" stroke-width="1.1" shape-rendering="crispEdges"/>
<path d="M680.5 512.0v2M680.5 523.0v2M674.0 518.5h2M685.0 518.5h2" stroke="#0072b2" stroke-width="1" shape-rendering="crispEdges"/>
<circle cx="727.5" cy="497.5" r="5.3" fill="none" stroke="#0072b2" stroke-width="1.1" shape-rendering="crispEdges"/>
<path d="M727.5 491.0v2M727.5 502.0v2M721.0 497.5h2M732.0 497.5h2" stroke="#0072b2" stroke-width="1" shape-rendering="crispEdges"/>
<circle cx="733.5" cy="469.5" r="5.3" fill="none" stroke="#0072b2" stroke-width="1.1" shape-rendering="crispEdges"/>
<path d="M733.5 463.0v2M733.5 474.0v2M727.0 469.5h2M738.0 469.5h2" stroke="#0072b2" stroke-width="1" shape-rendering="crispEdges"/>
<circle cx="780.5" cy="520.5" r="5.3" fill="none" stroke="#0072b2" stroke-width="1.1" shape-rendering="crispEdges"/>
<path d="M780.5 514.0v2M780.5 525.0v2M774.0 520.5h2M785.0 520.5h2" stroke="#0072b2" stroke-width="1" shape-rendering="crispEdges"/>
<circle cx="786.5" cy="515.5" r="5.3" fill="none" stroke="#0072b2" stroke-width="1.1" shape-rendering="crispEdges"/>
<path d="M786.5 509.0v2M786.5 520.0v2M780.0 515.5h2M791.0 515.5h2" stroke="#0072b2" stroke-width="1" shape-rendering="crispEdges"/>
<circle cx="833.5" cy="513.5" r="5.3" fill="none" stroke="#0072b2" stroke-width="1.1" shape-rendering="crispEdges"/>
<path d="M833.5 507.0v2M833.5 518.0v2M827.0 513.5h2M838.0 513.5h2" stroke="#0072b2" stroke-width="1" shape-rendering="crispEdges"/>
<circle cx="840.5" cy="513.5" r="5.3" fill="none" stroke="#0072b2" stroke-width="1.1" shape-rendering="crispEdges"/>
<path d="M840.5 507.0v2M840.5 518.0v2M834.0 513.5h2M845.0 513.5h2" stroke="#0072b2" stroke-width="1" shape-rendering="crispEdges"/>
<circle cx="886.5" cy="498.5" r="5.3" fill="none" stroke="#0072b2" stroke-width="1.1" shape-rendering="crispEdges"/>
<path d="M886.5 492.0v2M886.5 503.0v2M880.0 498.5h2M891.0 498.5h2" stroke="#0072b2" stroke-width="1" shape-rendering="crispEdges"/>
<circle cx="893.5" cy="512.5" r="5.3" fill="none" stroke="#0072b2" stroke-width="1.1" shape-rendering="crispEdges"/>
<path d="M893.5 506.0v2M893.5 517.0v2M887.0 512.5h2M898.0 512.5h2" stroke="#0072b2" stroke-width="1" shape-rendering="crispEdges"/>
<circle cx="940.5" cy="521.5" r="5.3" fill="none" stroke="#0072b2" stroke-width="1.1" shape-rendering="crispEdges"/>
<path d="M940.5 515.0v2M940.5 526.0v2M934.0 521.5h2M945.0 521.5h2" stroke="#0072b2" stroke-width="1" shape-rendering="crispEdges"/>
<circle cx="946.5" cy="514.5" r="5.3" fill="none" stroke="#0072b2" stroke-width="1.1" shape-rendering="crispEdges"/>
<path d="M946.5 508.0v2M946.5 519.0v2M940.0 514.5h2M951.0 514.5h2" stroke="#0072b2" stroke-width="1" shape-rendering="crispEdges"/>
<circle cx="993.5" cy="520.5" r="5.3" fill="none" stroke="#0072b2" stroke-width="1.1" shape-rendering="crispEdges"/>
<path d="M993.5 514.0v2M993.5 525.0v2M987.0 520.5h2M998.0 520.5h2" stroke="#0072b2" stroke-width="1" shape-rendering="crispEdges"/>
<circle cx="999.5" cy="517.5" r="5.3" fill="none" stroke="#0072b2" stroke-width="1.1" shape-rendering="crispEdges"/>
<path d="M999.5 511.0v2M999.5 522.0v2M993.0 517.5h2M1004.0 517.5h2" stroke="#0072b2" stroke-width="1" shape-rendering="crispEdges"/>
<circle cx="1046.5" cy="522.5" r="5.3" fill="none" stroke="#0072b2" stroke-width="1.1" shape-rendering="crispEdges"/>
<path d="M1046.5 516.0v2M1046.5 527.0v2M1040.0 522.5h2M1051.0 522.5h2" stroke="#0072b2" stroke-width="1" shape-rendering="crispEdges"/>
<circle cx="1052.5" cy="520.5" r="5.3" fill="none" stroke="#0072b2" stroke-width="1.1" shape-rendering="crispEdges"/>
<path d="M1052.5 514.0v2M1052.5 525.0v2M1046.0 520.5h2M1057.0 520.5h2" stroke="#0072b2" stroke-width="1" shape-rendering="crispEdges"/>
<circle cx="1099.5" cy="520.5" r="5.3" fill="none" stroke="#0072b2" stroke-width="1.1" shape-rendering="crispEdges"/>
<path d="M1099.5 514.0v2M1099.5 525.0v2M1093.0 520.5h2M1104.0 520.5h2" stroke="#0072b2" stroke-width="1" shape-rendering="crispEdges"/>
<circle cx="1105.5" cy="498.5" r="5.3" fill="none" stroke="#0072b2" stroke-width="1.1" shape-rendering="crispEdges"/>
<path d="M1105.5 492.0v2M1105.5 503.0v2M1099.0 498.5h2M1110.0 498.5h2" stroke="#0072b2" stroke-width="1" shape-rendering="crispEdges"/>
<circle cx="1152.5" cy="498.5" r="5.3" fill="none" stroke="#0072b2" stroke-width="1.1" shape-rendering="crispEdges"/>
<path d="M1152.5 492.0v2M1152.5 503.0v2M1146.0 498.5h2M1157.0 498.5h2" stroke="#0072b2" stroke-width="1" shape-rendering="crispEdges"/>
<circle cx="1158.5" cy="521.5" r="5.3" fill="none" stroke="#0072b2" stroke-width="1.1" shape-rendering="crispEdges"/>
<path d="M1158.5 515.0v2M1158.5 526.0v2M1152.0 521.5h2M1163.0 521.5h2" stroke="#0072b2" stroke-width="1" shape-rendering="crispEdges"/>
<circle cx="1205.5" cy="498.5" r="5.3" fill="none" stroke="#0072b2" stroke-width="1.1" shape-rendering="crispEdges"/>
<path d="M1205.5 492.0v2M1205.5 503.0v2M1199.0 498.5h2M1210.0 498.5h2" stroke="#0072b2" stroke-width="1" shape-rendering="crispEdges"/>
<circle cx="1211.5" cy="512.5" r="5.3" fill="none" stroke="#0072b2" stroke-width="1.1" shape-rendering="crispEdges"/>
<path d="M1211.5 506.0v2M1211.5 517.0v2M1205.0 512.5h2M1216.0 512.5h2" stroke="#0072b2" stroke-width="1" shape-rendering="crispEdges"/>
<circle cx="1258.5" cy="521.5" r="5.3" fill="none" stroke="#0072b2" stroke-width="1.1" shape-rendering="crispEdges"/>
<path d="M1258.5 515.0v2M1258.5 526.0v2M1252.0 521.5h2M1263.0 521.5h2" stroke="#0072b2" stroke-width="1" shape-rendering="crispEdges"/>
<circle cx="1265.5" cy="520.5" r="5.3" fill="none" stroke="#0072b2" stroke-width="1.1" shape-rendering="crispEdges"/>
<path d="M1265.5 514.0v2M1265.5 525.0v2M1259.0 520.5h2M1270.0 520.5h2" stroke="#0072b2" stroke-width="1" shape-rendering="crispEdges"/>
<circle cx="1311.5" cy="514.5" r="5.3" fill="none" stroke="#0072b2" stroke-width="1.1" shape-rendering="crispEdges"/>
<path d="M1311.5 508.0v2M1311.5 519.0v2M1305.0 514.5h2M1316.0 514.5h2" stroke="#0072b2" stroke-width="1" shape-rendering="crispEdges"/>
<circle cx="1318.5" cy="514.5" r="5.3" fill="none" stroke="#0072b2" stroke-width="1.1" shape-rendering="crispEdges"/>
<path d="M1318.5 508.0v2M1318.5 519.0v2M1312.0 514.5h2M1323.0 514.5h2" stroke="#0072b2" stroke-width="1" shape-rendering="crispEdges"/>
<circle cx="1365.5" cy="499.5" r="5.3" fill="none" stroke="#0072b2" stroke-width="1.1" shape-rendering="crispEdges"/>
<path d="M1365.5 493.0v2M1365.5 504.0v2M1359.0 499.5h2M1370.0 499.5h2" stroke="#0072b2" stroke-width="1" shape-rendering="crispEdges"/>
<circle cx="96.4" cy="539.5" r="5.7" fill="#e51e10"/>
<path d="M96.4 533.0v13M89.9 539.5h13" stroke="#e51e10" stroke-width="1"/>
<circle cx="143.1" cy="539.5" r="5.7" fill="#e51e10"/>
<path d="M143.1 533.0v13M136.6 539.5h13" stroke="#e51e10" stroke-width="1"/>
<circle cx="202.1" cy="539.5" r="5.7" fill="#e51e10"/>
<path d="M202.1 533.0v13M195.6 539.5h13" stroke="#e51e10" stroke-width="1"/>
<circle cx="249.2" cy="539.5" r="5.7" fill="#e51e10"/>
<path d="M249.2 533.0v13M242.7 539.5h13" stroke="#e51e10" stroke-width="1"/>
<circle cx="255.4" cy="539.5" r="5.7" fill="#e51e10"/>
<path d="M255.4 533.0v13M248.9 539.5h13" stroke="#e51e10" stroke-width="1"/>
<circle cx="302.1" cy="539.5" r="5.7" fill="#e51e10"/>
<path d="M302.1 533.0v13M295.6 539.5h13" stroke="#e51e10" stroke-width="1"/>
<circle cx="308.6" cy="539.5" r="5.7" fill="#e51e10"/>
<path d="M308.6 533.0v13M302.1 539.5h13" stroke="#e51e10" stroke-width="1"/>
<circle cx="355.7" cy="539.5" r="5.7" fill="#e51e10"/>
<path d="M355.7 533.0v13M349.2 539.5h13" stroke="#e51e10" stroke-width="1"/>
<circle cx="361.7" cy="539.5" r="5.7" fill="#e51e10"/>
<path d="M361.7 533.0v13M355.2 539.5h13" stroke="#e51e10" stroke-width="1"/>
<circle cx="407.9" cy="539.5" r="5.7" fill="#e51e10"/>
<path d="M407.9 533.0v13M401.4 539.5h13" stroke="#e51e10" stroke-width="1"/>
<circle cx="415.4" cy="539.5" r="5.7" fill="#e51e10"/>
<path d="M415.4 533.0v13M408.9 539.5h13" stroke="#e51e10" stroke-width="1"/>
<circle cx="461.4" cy="539.5" r="5.7" fill="#e51e10"/>
<path d="M461.4 533.0v13M454.9 539.5h13" stroke="#e51e10" stroke-width="1"/>
<circle cx="468.3" cy="539.5" r="5.7" fill="#e51e10"/>
<path d="M468.3 533.0v13M461.8 539.5h13" stroke="#e51e10" stroke-width="1"/>
<circle cx="515.4" cy="533.7" r="5.7" fill="#e51e10"/>
<path d="M515.4 527.2v13M508.9 533.7h13" stroke="#e51e10" stroke-width="1"/>
<circle cx="521.4" cy="539.5" r="5.7" fill="#e51e10"/>
<path d="M521.4 533.0v13M514.9 539.5h13" stroke="#e51e10" stroke-width="1"/>
<circle cx="568.1" cy="539.5" r="5.7" fill="#e51e10"/>
<path d="M568.1 533.0v13M561.6 539.5h13" stroke="#e51e10" stroke-width="1"/>
<circle cx="574.6" cy="539.5" r="5.7" fill="#e51e10"/>
<path d="M574.6 533.0v13M568.1 539.5h13" stroke="#e51e10" stroke-width="1"/>
<circle cx="621.0" cy="539.5" r="5.7" fill="#e51e10"/>
<path d="M621.0 533.0v13M614.5 539.5h13" stroke="#e51e10" stroke-width="1"/>
<circle cx="627.5" cy="539.5" r="5.7" fill="#e51e10"/>
<path d="M627.5 533.0v13M621.0 539.5h13" stroke="#e51e10" stroke-width="1"/>
<circle cx="674.3" cy="539.5" r="5.7" fill="#e51e10"/>
<path d="M674.3 533.0v13M667.8 539.5h13" stroke="#e51e10" stroke-width="1"/>
<circle cx="680.7" cy="539.5" r="5.7" fill="#e51e10"/>
<path d="M680.7 533.0v13M674.2 539.5h13" stroke="#e51e10" stroke-width="1"/>
<circle cx="727.4" cy="534.5" r="5.7" fill="#e51e10"/>
<path d="M727.4 528.0v13M720.9 534.5h13" stroke="#e51e10" stroke-width="1"/>
<circle cx="733.2" cy="539.5" r="5.7" fill="#e51e10"/>
<path d="M733.2 533.0v13M726.7 539.5h13" stroke="#e51e10" stroke-width="1"/>
<circle cx="780.4" cy="539.5" r="5.7" fill="#e51e10"/>
<path d="M780.4 533.0v13M773.9 539.5h13" stroke="#e51e10" stroke-width="1"/>
<circle cx="786.8" cy="539.5" r="5.7" fill="#e51e10"/>
<path d="M786.8 533.0v13M780.3 539.5h13" stroke="#e51e10" stroke-width="1"/>
<circle cx="833.3" cy="539.5" r="5.7" fill="#e51e10"/>
<path d="M833.3 533.0v13M826.8 539.5h13" stroke="#e51e10" stroke-width="1"/>
<circle cx="840.3" cy="539.5" r="5.7" fill="#e51e10"/>
<path d="M840.3 533.0v13M833.8 539.5h13" stroke="#e51e10" stroke-width="1"/>
<circle cx="886.0" cy="539.5" r="5.7" fill="#e51e10"/>
<path d="M886.0 533.0v13M879.5 539.5h13" stroke="#e51e10" stroke-width="1"/>
<circle cx="893.3" cy="539.5" r="5.7" fill="#e51e10"/>
<path d="M893.3 533.0v13M886.8 539.5h13" stroke="#e51e10" stroke-width="1"/>
<circle cx="940.4" cy="534.3" r="5.7" fill="#e51e10"/>
<path d="M940.4 527.8v13M933.9 534.3h13" stroke="#e51e10" stroke-width="1"/>
<circle cx="946.4" cy="539.5" r="5.7" fill="#e51e10"/>
<path d="M946.4 533.0v13M939.9 539.5h13" stroke="#e51e10" stroke-width="1"/>
<circle cx="993.2" cy="533.2" r="5.7" fill="#e51e10"/>
<path d="M993.2 526.7v13M986.7 533.2h13" stroke="#e51e10" stroke-width="1"/>
<circle cx="999.6" cy="539.5" r="5.7" fill="#e51e10"/>
<path d="M999.6 533.0v13M993.1 539.5h13" stroke="#e51e10" stroke-width="1"/>
<circle cx="1046.4" cy="539.5" r="5.7" fill="#e51e10"/>
<path d="M1046.4 533.0v13M1039.9 539.5h13" stroke="#e51e10" stroke-width="1"/>
<circle cx="1052.6" cy="539.5" r="5.7" fill="#e51e10"/>
<path d="M1052.6 533.0v13M1046.1 539.5h13" stroke="#e51e10" stroke-width="1"/>
<circle cx="1099.3" cy="539.5" r="5.7" fill="#e51e10"/>
<path d="M1099.3 533.0v13M1092.8 539.5h13" stroke="#e51e10" stroke-width="1"/>
<circle cx="1105.3" cy="539.5" r="5.7" fill="#e51e10"/>
<path d="M1105.3 533.0v13M1098.8 539.5h13" stroke="#e51e10" stroke-width="1"/>
<circle cx="1152.2" cy="539.5" r="5.7" fill="#e51e10"/>
<path d="M1152.2 533.0v13M1145.7 539.5h13" stroke="#e51e10" stroke-width="1"/>
<circle cx="1158.2" cy="539.5" r="5.7" fill="#e51e10"/>
<path d="M1158.2 533.0v13M1151.7 539.5h13" stroke="#e51e10" stroke-width="1"/>
<circle cx="1205.3" cy="539.5" r="5.7" fill="#e51e10"/>
<path d="M1205.3 533.0v13M1198.8 539.5h13" stroke="#e51e10" stroke-width="1"/>
<circle cx="1211.4" cy="539.5" r="5.7" fill="#e51e10"/>
<path d="M1211.4 533.0v13M1204.9 539.5h13" stroke="#e51e10" stroke-width="1"/>
<circle cx="1258.4" cy="539.5" r="5.7" fill="#e51e10"/>
<path d="M1258.4 533.0v13M1251.9 539.5h13" stroke="#e51e10" stroke-width="1"/>
<circle cx="1265.3" cy="539.5" r="5.7" fill="#e51e10"/>
<path d="M1265.3 533.0v13M1258.8 539.5h13" stroke="#e51e10" stroke-width="1"/>
<circle cx="1311.3" cy="539.5" r="5.7" fill="#e51e10"/>
<path d="M1311.3 533.0v13M1304.8 539.5h13" stroke="#e51e10" stroke-width="1"/>
<circle cx="1318.7" cy="539.5" r="5.7" fill="#e51e10"/>
<path d="M1318.7 533.0v13M1312.2 539.5h13" stroke="#e51e10" stroke-width="1"/>
<circle cx="1365.5" cy="535.5" r="5.7" fill="#e51e10"/>
<path d="M1365.5 529.0v13M1359.0 535.5h13" stroke="#e51e10" stroke-width="1"/>
<circle cx="252.3" cy="539.5" r="5.7" fill="#e51e10"/>
<path d="M252.3 533.0v13M245.8 539.5h13" stroke="#e51e10" stroke-width="1"/>
<circle cx="305.4" cy="539.5" r="5.7" fill="#e51e10"/>
<path d="M305.4 533.0v13M298.9 539.5h13" stroke="#e51e10" stroke-width="1"/>
<circle cx="358.7" cy="539.5" r="5.7" fill="#e51e10"/>
<path d="M358.7 533.0v13M352.2 539.5h13" stroke="#e51e10" stroke-width="1"/>
<circle cx="411.6" cy="539.5" r="5.7" fill="#e51e10"/>
<path d="M411.6 533.0v13M405.1 539.5h13" stroke="#e51e10" stroke-width="1"/>
<circle cx="464.9" cy="539.5" r="5.7" fill="#e51e10"/>
<path d="M464.9 533.0v13M458.4 539.5h13" stroke="#e51e10" stroke-width="1"/>
<circle cx="571.4" cy="539.5" r="5.7" fill="#e51e10"/>
<path d="M571.4 533.0v13M564.9 539.5h13" stroke="#e51e10" stroke-width="1"/>
<circle cx="624.2" cy="539.5" r="5.7" fill="#e51e10"/>
<path d="M624.2 533.0v13M617.8 539.5h13" stroke="#e51e10" stroke-width="1"/>
<circle cx="677.5" cy="539.5" r="5.7" fill="#e51e10"/>
<path d="M677.5 533.0v13M671.0 539.5h13" stroke="#e51e10" stroke-width="1"/>
<circle cx="783.6" cy="539.5" r="5.7" fill="#e51e10"/>
<path d="M783.6 533.0v13M777.1 539.5h13" stroke="#e51e10" stroke-width="1"/>
<circle cx="836.8" cy="539.5" r="5.7" fill="#e51e10"/>
<path d="M836.8 533.0v13M830.3 539.5h13" stroke="#e51e10" stroke-width="1"/>
<circle cx="889.6" cy="539.5" r="5.7" fill="#e51e10"/>
<path d="M889.6 533.0v13M883.1 539.5h13" stroke="#e51e10" stroke-width="1"/>
<circle cx="1049.5" cy="539.5" r="5.7" fill="#e51e10"/>
<path d="M1049.5 533.0v13M1043.0 539.5h13" stroke="#e51e10" stroke-width="1"/>
<circle cx="1102.3" cy="539.5" r="5.7" fill="#e51e10"/>
<path d="M1102.3 533.0v13M1095.8 539.5h13" stroke="#e51e10" stroke-width="1"/>
<circle cx="1155.2" cy="539.5" r="5.7" fill="#e51e10"/>
<path d="M1155.2 533.0v13M1148.7 539.5h13" stroke="#e51e10" stroke-width="1"/>
<circle cx="1208.3" cy="539.5" r="5.7" fill="#e51e10"/>
<path d="M1208.3 533.0v13M1201.8 539.5h13" stroke="#e51e10" stroke-width="1"/>
<circle cx="1261.8" cy="539.5" r="5.7" fill="#e51e10"/>
<path d="M1261.8 533.0v13M1255.3 539.5h13" stroke="#e51e10" stroke-width="1"/>
<circle cx="1315.0" cy="539.5" r="5.7" fill="#e51e10"/>
<path d="M1315.0 533.0v13M1308.5 539.5h13" stroke="#e51e10" stroke-width="1"/>
</g>
<rect x="94.5" y="57.5" width="1275" height="482" fill="none" stroke="#000" stroke-width="1"/>
</svg></body></html>
